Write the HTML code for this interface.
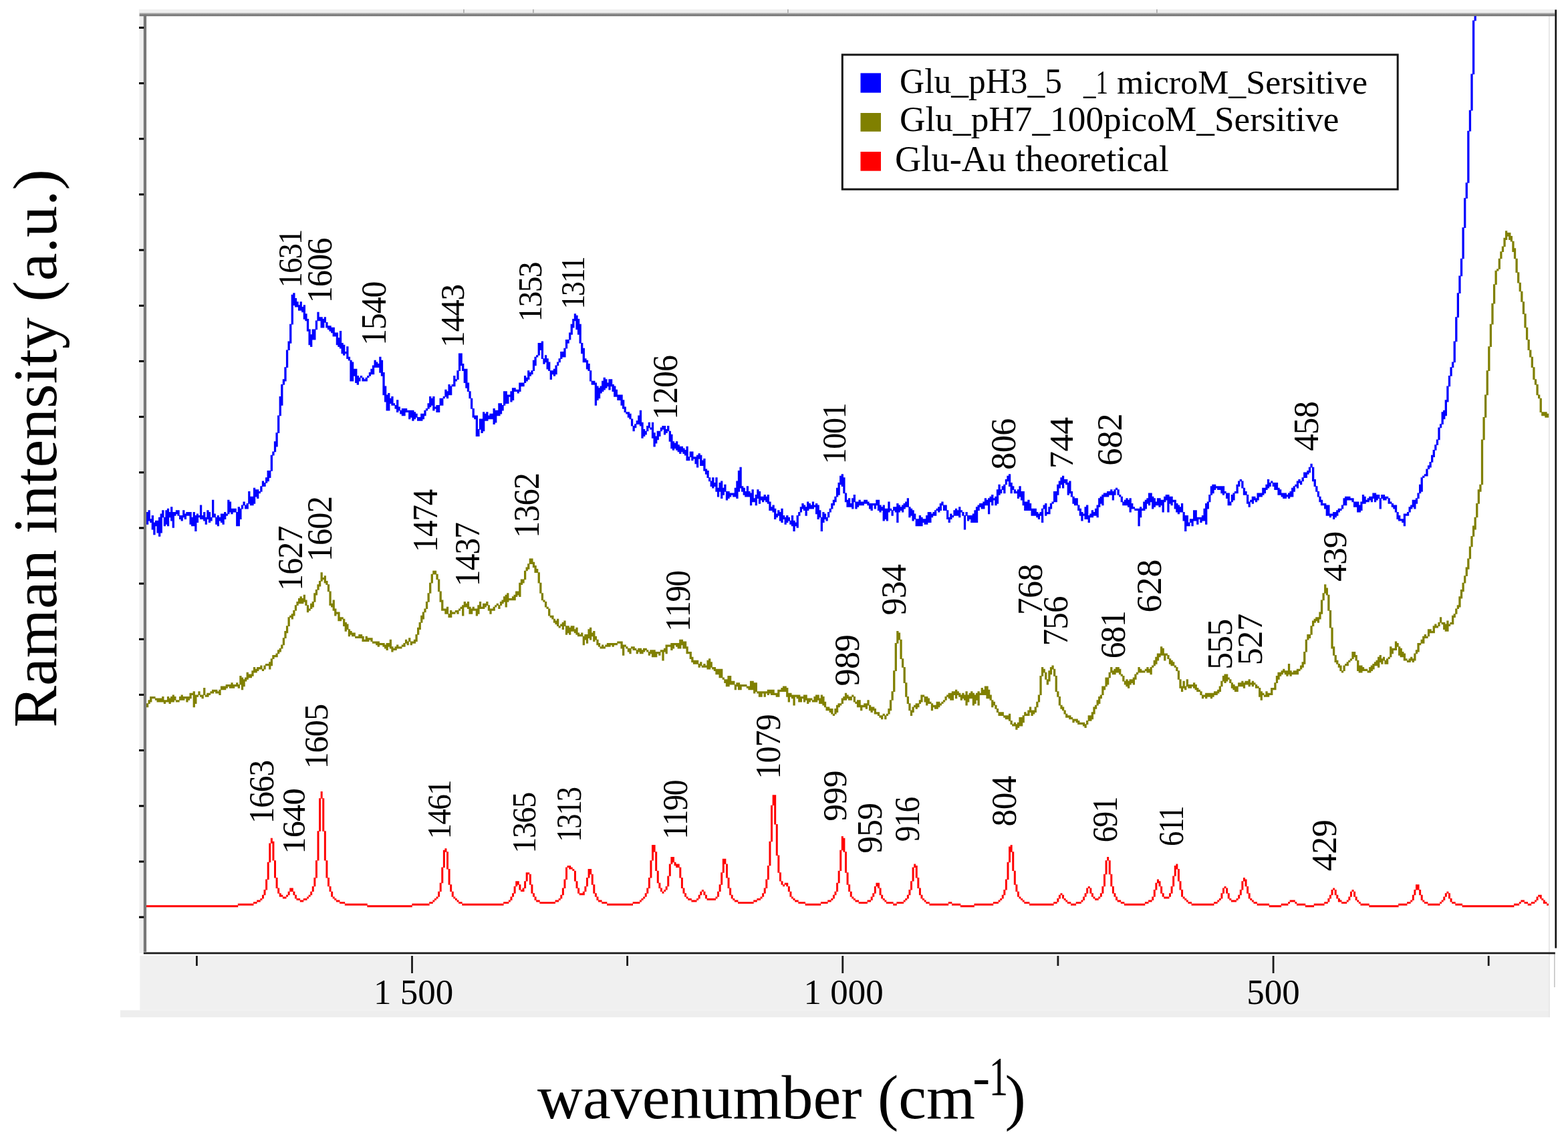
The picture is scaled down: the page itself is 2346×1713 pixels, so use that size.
<!DOCTYPE html>
<html><head><meta charset="utf-8"><title>Raman spectra</title>
<style>html,body{margin:0;padding:0;background:#fff;}body{width:2346px;height:1713px;overflow:hidden;}svg{display:block;}</style>
</head><body>
<svg xmlns="http://www.w3.org/2000/svg" width="2346" height="1713" viewBox="0 0 2346 1713">
<rect x="0" y="0" width="2346" height="1713" fill="#fff"/>
<rect x="208" y="14" width="2119" height="6" fill="#efefef"/>
<rect x="208.5" y="14" width="6.5" height="1412" fill="#f0f0f0"/>
<rect x="209.3" y="1429.7" width="2108.7" height="81.7" fill="#f0f0f0"/>
<rect x="180" y="1511.4" width="2138" height="10.6" fill="#eeeeee"/>
<rect x="2316.8" y="24" width="2.2" height="1498" fill="#e9e9e9"/>
<rect x="2325" y="1427" width="1.6" height="50" fill="#c4c4c4"/>
<rect x="693" y="14" width="1.8" height="6" fill="#b0b0b0"/>
<rect x="797" y="14" width="1.8" height="6" fill="#b0b0b0"/>
<rect x="1178" y="14" width="1.8" height="6" fill="#b0b0b0"/>
<rect x="1730" y="14" width="1.8" height="6" fill="#b0b0b0"/>
<path d="M216.52 1354.3h2.98v2.98h-2.98zM219.1 1354.3h2.98v2.98h-2.98zM221.68 1354.3h2.98v2.98h-2.98zM224.26 1354.3h2.98v2.98h-2.98zM226.84 1354.3h2.98v2.98h-2.98zM229.42 1354.3h2.98v2.98h-2.98zM232 1354.3h2.98v2.98h-2.98zM234.58 1354.3h2.98v2.98h-2.98zM237.16 1354.3h2.98v2.98h-2.98zM239.74 1354.3h2.98v2.98h-2.98zM242.32 1354.3h2.98v2.98h-2.98zM244.9 1354.3h2.98v2.98h-2.98zM247.48 1354.3h2.98v2.98h-2.98zM250.06 1354.3h2.98v2.98h-2.98zM252.64 1354.3h2.98v2.98h-2.98zM255.22 1354.3h2.98v2.98h-2.98zM257.8 1354.3h2.98v2.98h-2.98zM260.38 1354.3h2.98v2.98h-2.98zM262.96 1354.3h2.98v2.98h-2.98zM265.54 1354.3h2.98v2.98h-2.98zM268.12 1354.3h2.98v2.98h-2.98zM270.7 1354.3h2.98v2.98h-2.98zM273.28 1354.3h2.98v2.98h-2.98zM275.86 1354.3h2.98v2.98h-2.98zM278.44 1354.3h2.98v2.98h-2.98zM281.02 1354.3h2.98v2.98h-2.98zM283.6 1354.3h2.98v2.98h-2.98zM286.18 1354.3h2.98v2.98h-2.98zM288.76 1354.3h2.98v2.98h-2.98zM291.34 1354.3h2.98v2.98h-2.98zM293.92 1354.3h2.98v2.98h-2.98zM296.5 1354.3h2.98v2.98h-2.98zM299.08 1354.3h2.98v2.98h-2.98zM301.66 1354.3h2.98v2.98h-2.98zM304.24 1354.3h2.98v2.98h-2.98zM306.82 1354.3h2.98v2.98h-2.98zM309.4 1354.3h2.98v2.98h-2.98zM311.98 1354.3h2.98v2.98h-2.98zM314.56 1354.3h2.98v2.98h-2.98zM317.14 1354.3h2.98v2.98h-2.98zM319.72 1354.3h2.98v2.98h-2.98zM322.3 1354.3h2.98v2.98h-2.98zM324.88 1354.3h2.98v2.98h-2.98zM327.46 1354.3h2.98v2.98h-2.98zM330.04 1354.3h2.98v2.98h-2.98zM332.62 1354.3h2.98v2.98h-2.98zM335.2 1354.3h2.98v2.98h-2.98zM337.78 1354.3h2.98v2.98h-2.98zM340.36 1354.3h2.98v2.98h-2.98zM342.94 1354.3h2.98v2.98h-2.98zM345.52 1354.3h2.98v2.98h-2.98zM348.1 1354.3h2.98v2.98h-2.98zM350.68 1354.3h2.98v2.98h-2.98zM353.26 1354.3h2.98v2.98h-2.98zM355.84 1351.72h2.98v2.98h-2.98zM358.42 1351.72h2.98v2.98h-2.98zM361 1351.72h2.98v2.98h-2.98zM363.58 1351.72h2.98v2.98h-2.98zM366.16 1351.72h2.98v2.98h-2.98zM368.74 1351.72h2.98v2.98h-2.98zM371.32 1351.72h2.98v2.98h-2.98zM373.9 1351.72h2.98v2.98h-2.98zM376.48 1351.72h2.98v2.98h-2.98zM379.06 1349.14h2.98v2.98h-2.98zM381.64 1349.14h2.98v2.98h-2.98zM384.22 1346.56h2.98v2.98h-2.98zM386.8 1346.56h2.98v2.98h-2.98zM389.38 1343.98h2.98v2.98h-2.98zM391.96 1338.82h2.98v5.56h-2.98zM394.54 1331.08h2.98v8.14h-2.98zM397.12 1315.6h2.98v15.88h-2.98zM399.7 1289.8h2.98v26.2h-2.98zM402.28 1261.42h2.98v28.78h-2.98zM404.86 1253.68h2.98v8.14h-2.98zM407.44 1258.84h2.98v28.78h-2.98zM410.02 1287.22h2.98v26.2h-2.98zM412.6 1313.02h2.98v15.88h-2.98zM415.18 1328.5h2.98v8.14h-2.98zM417.76 1336.24h2.98v5.56h-2.98zM420.34 1338.82h2.98v2.98h-2.98zM422.92 1341.4h2.98v2.98h-2.98zM425.5 1341.4h2.98v2.98h-2.98zM428.08 1338.82h2.98v2.98h-2.98zM430.66 1333.66h2.98v5.56h-2.98zM433.24 1328.5h2.98v5.56h-2.98zM435.82 1328.5h2.98v5.56h-2.98zM438.4 1333.66h2.98v5.56h-2.98zM440.98 1338.82h2.98v5.56h-2.98zM443.56 1343.98h2.98v2.98h-2.98zM446.14 1343.98h2.98v2.98h-2.98zM448.72 1346.56h2.98v2.98h-2.98zM451.3 1346.56h2.98v2.98h-2.98zM453.88 1343.98h2.98v2.98h-2.98zM456.46 1343.98h2.98v2.98h-2.98zM459.04 1341.4h2.98v2.98h-2.98zM461.62 1338.82h2.98v2.98h-2.98zM464.2 1333.66h2.98v5.56h-2.98zM466.78 1325.92h2.98v8.14h-2.98zM469.36 1313.02h2.98v13.3h-2.98zM471.94 1287.22h2.98v26.2h-2.98zM474.52 1243.36h2.98v44.26h-2.98zM477.1 1194.34h2.98v49.42h-2.98zM479.68 1184.02h2.98v10.72h-2.98zM482.26 1194.34h2.98v49.42h-2.98zM484.84 1243.36h2.98v44.26h-2.98zM487.42 1287.22h2.98v26.2h-2.98zM490 1313.02h2.98v13.3h-2.98zM492.58 1325.92h2.98v8.14h-2.98zM495.16 1333.66h2.98v8.14h-2.98zM497.74 1341.4h2.98v2.98h-2.98zM500.32 1343.98h2.98v2.98h-2.98zM502.9 1346.56h2.98v2.98h-2.98zM505.48 1346.56h2.98v2.98h-2.98zM508.06 1349.14h2.98v2.98h-2.98zM510.64 1349.14h2.98v2.98h-2.98zM513.22 1349.14h2.98v2.98h-2.98zM515.8 1351.72h2.98v2.98h-2.98zM518.38 1351.72h2.98v2.98h-2.98zM520.96 1351.72h2.98v2.98h-2.98zM523.54 1351.72h2.98v2.98h-2.98zM526.12 1351.72h2.98v2.98h-2.98zM528.7 1351.72h2.98v2.98h-2.98zM531.28 1351.72h2.98v2.98h-2.98zM533.86 1351.72h2.98v2.98h-2.98zM536.44 1351.72h2.98v2.98h-2.98zM539.02 1351.72h2.98v2.98h-2.98zM541.6 1351.72h2.98v2.98h-2.98zM544.18 1351.72h2.98v2.98h-2.98zM546.76 1351.72h2.98v2.98h-2.98zM549.34 1354.3h2.98v2.98h-2.98zM551.92 1354.3h2.98v2.98h-2.98zM554.5 1354.3h2.98v2.98h-2.98zM557.08 1354.3h2.98v2.98h-2.98zM559.66 1354.3h2.98v2.98h-2.98zM562.24 1354.3h2.98v2.98h-2.98zM564.82 1354.3h2.98v2.98h-2.98zM567.4 1354.3h2.98v2.98h-2.98zM569.98 1354.3h2.98v2.98h-2.98zM572.56 1354.3h2.98v2.98h-2.98zM575.14 1354.3h2.98v2.98h-2.98zM577.72 1354.3h2.98v2.98h-2.98zM580.3 1354.3h2.98v2.98h-2.98zM582.88 1354.3h2.98v2.98h-2.98zM585.46 1354.3h2.98v2.98h-2.98zM588.04 1354.3h2.98v2.98h-2.98zM590.62 1354.3h2.98v2.98h-2.98zM593.2 1354.3h2.98v2.98h-2.98zM595.78 1354.3h2.98v2.98h-2.98zM598.36 1354.3h2.98v2.98h-2.98zM600.94 1354.3h2.98v2.98h-2.98zM603.52 1354.3h2.98v2.98h-2.98zM606.1 1354.3h2.98v2.98h-2.98zM608.68 1354.3h2.98v2.98h-2.98zM611.26 1354.3h2.98v2.98h-2.98zM613.84 1354.3h2.98v2.98h-2.98zM616.42 1351.72h2.98v2.98h-2.98zM619 1351.72h2.98v2.98h-2.98zM621.58 1351.72h2.98v2.98h-2.98zM624.16 1351.72h2.98v2.98h-2.98zM626.74 1351.72h2.98v2.98h-2.98zM629.32 1351.72h2.98v2.98h-2.98zM631.9 1351.72h2.98v2.98h-2.98zM634.48 1351.72h2.98v2.98h-2.98zM637.06 1351.72h2.98v2.98h-2.98zM639.64 1351.72h2.98v2.98h-2.98zM642.22 1349.14h2.98v2.98h-2.98zM644.8 1349.14h2.98v2.98h-2.98zM647.38 1346.56h2.98v2.98h-2.98zM649.96 1343.98h2.98v2.98h-2.98zM652.54 1341.4h2.98v2.98h-2.98zM655.12 1333.66h2.98v8.14h-2.98zM657.7 1320.76h2.98v13.3h-2.98zM660.28 1297.54h2.98v23.62h-2.98zM662.86 1271.74h2.98v26.2h-2.98zM665.44 1269.16h2.98v5.56h-2.98zM668.02 1274.32h2.98v26.2h-2.98zM670.6 1300.12h2.98v23.62h-2.98zM673.18 1323.34h2.98v10.72h-2.98zM675.76 1333.66h2.98v8.14h-2.98zM678.34 1341.4h2.98v2.98h-2.98zM680.92 1343.98h2.98v2.98h-2.98zM683.5 1346.56h2.98v2.98h-2.98zM686.08 1349.14h2.98v2.98h-2.98zM688.66 1349.14h2.98v2.98h-2.98zM691.24 1351.72h2.98v2.98h-2.98zM693.82 1351.72h2.98v2.98h-2.98zM696.4 1351.72h2.98v2.98h-2.98zM698.98 1351.72h2.98v2.98h-2.98zM701.56 1351.72h2.98v2.98h-2.98zM704.14 1351.72h2.98v2.98h-2.98zM706.72 1351.72h2.98v2.98h-2.98zM709.3 1351.72h2.98v2.98h-2.98zM711.88 1351.72h2.98v2.98h-2.98zM714.46 1351.72h2.98v2.98h-2.98zM717.04 1351.72h2.98v2.98h-2.98zM719.62 1351.72h2.98v2.98h-2.98zM722.2 1351.72h2.98v2.98h-2.98zM724.78 1351.72h2.98v2.98h-2.98zM727.36 1351.72h2.98v2.98h-2.98zM729.94 1351.72h2.98v2.98h-2.98zM732.52 1351.72h2.98v2.98h-2.98zM735.1 1351.72h2.98v2.98h-2.98zM737.68 1351.72h2.98v2.98h-2.98zM740.26 1351.72h2.98v2.98h-2.98zM742.84 1351.72h2.98v2.98h-2.98zM745.42 1351.72h2.98v2.98h-2.98zM748 1351.72h2.98v2.98h-2.98zM750.58 1351.72h2.98v2.98h-2.98zM753.16 1349.14h2.98v2.98h-2.98zM755.74 1349.14h2.98v2.98h-2.98zM758.32 1349.14h2.98v2.98h-2.98zM760.9 1346.56h2.98v2.98h-2.98zM763.48 1341.4h2.98v5.56h-2.98zM766.06 1336.24h2.98v5.56h-2.98zM768.64 1325.92h2.98v10.72h-2.98zM771.22 1318.18h2.98v8.14h-2.98zM773.8 1318.18h2.98v5.56h-2.98zM776.38 1323.34h2.98v8.14h-2.98zM778.96 1331.08h2.98v2.98h-2.98zM781.54 1328.5h2.98v5.56h-2.98zM784.12 1318.18h2.98v10.72h-2.98zM786.7 1305.28h2.98v13.3h-2.98zM789.28 1305.28h2.98v2.98h-2.98zM791.86 1307.86h2.98v15.88h-2.98zM794.44 1323.34h2.98v13.3h-2.98zM797.02 1336.24h2.98v5.56h-2.98zM799.6 1341.4h2.98v5.56h-2.98zM802.18 1346.56h2.98v2.98h-2.98zM804.76 1346.56h2.98v2.98h-2.98zM807.34 1349.14h2.98v2.98h-2.98zM809.92 1349.14h2.98v2.98h-2.98zM812.5 1349.14h2.98v2.98h-2.98zM815.08 1349.14h2.98v2.98h-2.98zM817.66 1349.14h2.98v2.98h-2.98zM820.24 1349.14h2.98v2.98h-2.98zM822.82 1349.14h2.98v2.98h-2.98zM825.4 1349.14h2.98v2.98h-2.98zM827.98 1349.14h2.98v2.98h-2.98zM830.56 1346.56h2.98v2.98h-2.98zM833.14 1346.56h2.98v2.98h-2.98zM835.72 1343.98h2.98v2.98h-2.98zM838.3 1338.82h2.98v5.56h-2.98zM840.88 1328.5h2.98v10.72h-2.98zM843.46 1315.6h2.98v13.3h-2.98zM846.04 1297.54h2.98v18.46h-2.98zM848.62 1294.96h2.98v2.98h-2.98zM851.2 1294.96h2.98v5.56h-2.98zM853.78 1297.54h2.98v2.98h-2.98zM856.36 1300.12h2.98v2.98h-2.98zM858.94 1302.7h2.98v15.88h-2.98zM861.52 1318.18h2.98v10.72h-2.98zM864.1 1328.5h2.98v8.14h-2.98zM866.68 1336.24h2.98v2.98h-2.98zM869.26 1336.24h2.98v2.98h-2.98zM871.84 1333.66h2.98v5.56h-2.98zM874.42 1325.92h2.98v8.14h-2.98zM877 1313.02h2.98v13.3h-2.98zM879.58 1300.12h2.98v13.3h-2.98zM882.16 1300.12h2.98v8.14h-2.98zM884.74 1307.86h2.98v15.88h-2.98zM887.32 1323.34h2.98v13.3h-2.98zM889.9 1336.24h2.98v5.56h-2.98zM892.48 1341.4h2.98v5.56h-2.98zM895.06 1346.56h2.98v2.98h-2.98zM897.64 1346.56h2.98v2.98h-2.98zM900.22 1349.14h2.98v2.98h-2.98zM902.8 1349.14h2.98v2.98h-2.98zM905.38 1349.14h2.98v2.98h-2.98zM907.96 1351.72h2.98v2.98h-2.98zM910.54 1351.72h2.98v2.98h-2.98zM913.12 1351.72h2.98v2.98h-2.98zM915.7 1351.72h2.98v2.98h-2.98zM918.28 1351.72h2.98v2.98h-2.98zM920.86 1351.72h2.98v2.98h-2.98zM923.44 1351.72h2.98v2.98h-2.98zM926.02 1351.72h2.98v2.98h-2.98zM928.6 1351.72h2.98v2.98h-2.98zM931.18 1351.72h2.98v2.98h-2.98zM933.76 1351.72h2.98v2.98h-2.98zM936.34 1351.72h2.98v2.98h-2.98zM938.92 1351.72h2.98v2.98h-2.98zM941.5 1351.72h2.98v2.98h-2.98zM944.08 1351.72h2.98v2.98h-2.98zM946.66 1349.14h2.98v2.98h-2.98zM949.24 1349.14h2.98v2.98h-2.98zM951.82 1349.14h2.98v2.98h-2.98zM954.4 1349.14h2.98v2.98h-2.98zM956.98 1346.56h2.98v2.98h-2.98zM959.56 1343.98h2.98v2.98h-2.98zM962.14 1341.4h2.98v2.98h-2.98zM964.72 1336.24h2.98v5.56h-2.98zM967.3 1328.5h2.98v8.14h-2.98zM969.88 1313.02h2.98v15.88h-2.98zM972.46 1287.22h2.98v26.2h-2.98zM975.04 1264h2.98v23.62h-2.98zM977.62 1264h2.98v10.72h-2.98zM980.2 1274.32h2.98v28.78h-2.98zM982.78 1302.7h2.98v18.46h-2.98zM985.36 1320.76h2.98v8.14h-2.98zM987.94 1328.5h2.98v5.56h-2.98zM990.52 1333.66h2.98v2.98h-2.98zM993.1 1331.08h2.98v2.98h-2.98zM995.68 1325.92h2.98v5.56h-2.98zM998.26 1310.44h2.98v15.88h-2.98zM1000.84 1292.38h2.98v18.46h-2.98zM1003.42 1282.06h2.98v10.72h-2.98zM1006 1282.06h2.98v8.14h-2.98zM1008.58 1289.8h2.98v5.56h-2.98zM1011.16 1292.38h2.98v5.56h-2.98zM1013.74 1292.38h2.98v5.56h-2.98zM1016.32 1297.54h2.98v15.88h-2.98zM1018.9 1313.02h2.98v15.88h-2.98zM1021.48 1328.5h2.98v8.14h-2.98zM1024.06 1336.24h2.98v5.56h-2.98zM1026.64 1341.4h2.98v2.98h-2.98zM1029.22 1343.98h2.98v2.98h-2.98zM1031.8 1343.98h2.98v2.98h-2.98zM1034.38 1346.56h2.98v2.98h-2.98zM1036.96 1346.56h2.98v2.98h-2.98zM1039.54 1346.56h2.98v2.98h-2.98zM1042.12 1343.98h2.98v2.98h-2.98zM1044.7 1338.82h2.98v5.56h-2.98zM1047.28 1333.66h2.98v5.56h-2.98zM1049.86 1331.08h2.98v2.98h-2.98zM1052.44 1333.66h2.98v5.56h-2.98zM1055.02 1338.82h2.98v5.56h-2.98zM1057.6 1343.98h2.98v2.98h-2.98zM1060.18 1343.98h2.98v2.98h-2.98zM1062.76 1343.98h2.98v2.98h-2.98zM1065.34 1343.98h2.98v2.98h-2.98zM1067.92 1343.98h2.98v2.98h-2.98zM1070.5 1341.4h2.98v2.98h-2.98zM1073.08 1333.66h2.98v8.14h-2.98zM1075.66 1323.34h2.98v10.72h-2.98zM1078.24 1305.28h2.98v18.46h-2.98zM1080.82 1284.64h2.98v21.04h-2.98zM1083.4 1284.64h2.98v8.14h-2.98zM1085.98 1292.38h2.98v21.04h-2.98zM1088.56 1313.02h2.98v15.88h-2.98zM1091.14 1328.5h2.98v10.72h-2.98zM1093.72 1338.82h2.98v5.56h-2.98zM1096.3 1343.98h2.98v2.98h-2.98zM1098.88 1346.56h2.98v2.98h-2.98zM1101.46 1346.56h2.98v2.98h-2.98zM1104.04 1349.14h2.98v2.98h-2.98zM1106.62 1349.14h2.98v2.98h-2.98zM1109.2 1349.14h2.98v2.98h-2.98zM1111.78 1349.14h2.98v2.98h-2.98zM1114.36 1349.14h2.98v2.98h-2.98zM1116.94 1349.14h2.98v2.98h-2.98zM1119.52 1349.14h2.98v2.98h-2.98zM1122.1 1349.14h2.98v2.98h-2.98zM1124.68 1349.14h2.98v2.98h-2.98zM1127.26 1346.56h2.98v2.98h-2.98zM1129.84 1346.56h2.98v2.98h-2.98zM1132.42 1343.98h2.98v2.98h-2.98zM1135 1343.98h2.98v2.98h-2.98zM1137.58 1341.4h2.98v2.98h-2.98zM1140.16 1336.24h2.98v5.56h-2.98zM1142.74 1328.5h2.98v8.14h-2.98zM1145.32 1315.6h2.98v13.3h-2.98zM1147.9 1294.96h2.98v21.04h-2.98zM1150.48 1258.84h2.98v36.52h-2.98zM1153.06 1204.66h2.98v54.58h-2.98zM1155.64 1189.18h2.98v15.88h-2.98zM1158.22 1189.18h2.98v44.26h-2.98zM1160.8 1233.04h2.98v46.84h-2.98zM1163.38 1279.48h2.98v26.2h-2.98zM1165.96 1305.28h2.98v13.3h-2.98zM1168.54 1318.18h2.98v5.56h-2.98zM1171.12 1323.34h2.98v2.98h-2.98zM1173.7 1320.76h2.98v2.98h-2.98zM1176.28 1320.76h2.98v5.56h-2.98zM1178.86 1325.92h2.98v8.14h-2.98zM1181.44 1333.66h2.98v8.14h-2.98zM1184.02 1341.4h2.98v2.98h-2.98zM1186.6 1343.98h2.98v2.98h-2.98zM1189.18 1346.56h2.98v2.98h-2.98zM1191.76 1346.56h2.98v2.98h-2.98zM1194.34 1349.14h2.98v2.98h-2.98zM1196.92 1349.14h2.98v2.98h-2.98zM1199.5 1349.14h2.98v2.98h-2.98zM1202.08 1349.14h2.98v2.98h-2.98zM1204.66 1351.72h2.98v2.98h-2.98zM1207.24 1351.72h2.98v2.98h-2.98zM1209.82 1351.72h2.98v2.98h-2.98zM1212.4 1351.72h2.98v2.98h-2.98zM1214.98 1351.72h2.98v2.98h-2.98zM1217.56 1351.72h2.98v2.98h-2.98zM1220.14 1351.72h2.98v2.98h-2.98zM1222.72 1351.72h2.98v2.98h-2.98zM1225.3 1351.72h2.98v2.98h-2.98zM1227.88 1349.14h2.98v2.98h-2.98zM1230.46 1349.14h2.98v2.98h-2.98zM1233.04 1349.14h2.98v2.98h-2.98zM1235.62 1349.14h2.98v2.98h-2.98zM1238.2 1346.56h2.98v2.98h-2.98zM1240.78 1346.56h2.98v2.98h-2.98zM1243.36 1343.98h2.98v2.98h-2.98zM1245.94 1338.82h2.98v5.56h-2.98zM1248.52 1333.66h2.98v5.56h-2.98zM1251.1 1320.76h2.98v13.3h-2.98zM1253.68 1302.7h2.98v18.46h-2.98zM1256.26 1271.74h2.98v31.36h-2.98zM1258.84 1251.1h2.98v21.04h-2.98zM1261.42 1253.68h2.98v21.04h-2.98zM1264 1274.32h2.98v31.36h-2.98zM1266.58 1305.28h2.98v18.46h-2.98zM1269.16 1323.34h2.98v10.72h-2.98zM1271.74 1333.66h2.98v8.14h-2.98zM1274.32 1341.4h2.98v2.98h-2.98zM1276.9 1343.98h2.98v2.98h-2.98zM1279.48 1346.56h2.98v2.98h-2.98zM1282.06 1346.56h2.98v2.98h-2.98zM1284.64 1349.14h2.98v2.98h-2.98zM1287.22 1349.14h2.98v2.98h-2.98zM1289.8 1349.14h2.98v2.98h-2.98zM1292.38 1349.14h2.98v2.98h-2.98zM1294.96 1349.14h2.98v2.98h-2.98zM1297.54 1346.56h2.98v2.98h-2.98zM1300.12 1346.56h2.98v2.98h-2.98zM1302.7 1341.4h2.98v5.56h-2.98zM1305.28 1336.24h2.98v5.56h-2.98zM1307.86 1325.92h2.98v10.72h-2.98zM1310.44 1320.76h2.98v5.56h-2.98zM1313.02 1320.76h2.98v8.14h-2.98zM1315.6 1328.5h2.98v10.72h-2.98zM1318.18 1338.82h2.98v5.56h-2.98zM1320.76 1343.98h2.98v2.98h-2.98zM1323.34 1346.56h2.98v2.98h-2.98zM1325.92 1349.14h2.98v2.98h-2.98zM1328.5 1349.14h2.98v2.98h-2.98zM1331.08 1349.14h2.98v2.98h-2.98zM1333.66 1349.14h2.98v2.98h-2.98zM1336.24 1351.72h2.98v2.98h-2.98zM1338.82 1351.72h2.98v2.98h-2.98zM1341.4 1349.14h2.98v2.98h-2.98zM1343.98 1349.14h2.98v2.98h-2.98zM1346.56 1349.14h2.98v2.98h-2.98zM1349.14 1349.14h2.98v2.98h-2.98zM1351.72 1346.56h2.98v2.98h-2.98zM1354.3 1343.98h2.98v2.98h-2.98zM1356.88 1338.82h2.98v5.56h-2.98zM1359.46 1331.08h2.98v8.14h-2.98zM1362.04 1318.18h2.98v13.3h-2.98zM1364.62 1297.54h2.98v21.04h-2.98zM1367.2 1292.38h2.98v5.56h-2.98zM1369.78 1294.96h2.98v18.46h-2.98zM1372.36 1313.02h2.98v15.88h-2.98zM1374.94 1328.5h2.98v10.72h-2.98zM1377.52 1338.82h2.98v5.56h-2.98zM1380.1 1343.98h2.98v2.98h-2.98zM1382.68 1346.56h2.98v2.98h-2.98zM1385.26 1349.14h2.98v2.98h-2.98zM1387.84 1349.14h2.98v2.98h-2.98zM1390.42 1351.72h2.98v2.98h-2.98zM1393 1351.72h2.98v2.98h-2.98zM1395.58 1351.72h2.98v2.98h-2.98zM1398.16 1351.72h2.98v2.98h-2.98zM1400.74 1351.72h2.98v2.98h-2.98zM1403.32 1351.72h2.98v2.98h-2.98zM1405.9 1351.72h2.98v2.98h-2.98zM1408.48 1351.72h2.98v2.98h-2.98zM1411.06 1351.72h2.98v2.98h-2.98zM1413.64 1351.72h2.98v2.98h-2.98zM1416.22 1351.72h2.98v2.98h-2.98zM1418.8 1349.14h2.98v2.98h-2.98zM1421.38 1349.14h2.98v2.98h-2.98zM1423.96 1351.72h2.98v2.98h-2.98zM1426.54 1351.72h2.98v2.98h-2.98zM1429.12 1351.72h2.98v2.98h-2.98zM1431.7 1351.72h2.98v2.98h-2.98zM1434.28 1351.72h2.98v2.98h-2.98zM1436.86 1354.3h2.98v2.98h-2.98zM1439.44 1354.3h2.98v2.98h-2.98zM1442.02 1354.3h2.98v2.98h-2.98zM1444.6 1354.3h2.98v2.98h-2.98zM1447.18 1354.3h2.98v2.98h-2.98zM1449.76 1354.3h2.98v2.98h-2.98zM1452.34 1354.3h2.98v2.98h-2.98zM1454.92 1354.3h2.98v2.98h-2.98zM1457.5 1351.72h2.98v2.98h-2.98zM1460.08 1351.72h2.98v2.98h-2.98zM1462.66 1351.72h2.98v2.98h-2.98zM1465.24 1351.72h2.98v2.98h-2.98zM1467.82 1351.72h2.98v2.98h-2.98zM1470.4 1351.72h2.98v2.98h-2.98zM1472.98 1351.72h2.98v2.98h-2.98zM1475.56 1351.72h2.98v2.98h-2.98zM1478.14 1351.72h2.98v2.98h-2.98zM1480.72 1351.72h2.98v2.98h-2.98zM1483.3 1351.72h2.98v2.98h-2.98zM1485.88 1349.14h2.98v2.98h-2.98zM1488.46 1349.14h2.98v2.98h-2.98zM1491.04 1349.14h2.98v2.98h-2.98zM1493.62 1346.56h2.98v2.98h-2.98zM1496.2 1343.98h2.98v2.98h-2.98zM1498.78 1338.82h2.98v5.56h-2.98zM1501.36 1331.08h2.98v8.14h-2.98zM1503.94 1315.6h2.98v15.88h-2.98zM1506.52 1289.8h2.98v26.2h-2.98zM1509.1 1266.58h2.98v23.62h-2.98zM1511.68 1264h2.98v10.72h-2.98zM1514.26 1274.32h2.98v28.78h-2.98zM1516.84 1302.7h2.98v21.04h-2.98zM1519.42 1323.34h2.98v10.72h-2.98zM1522 1333.66h2.98v8.14h-2.98zM1524.58 1341.4h2.98v2.98h-2.98zM1527.16 1343.98h2.98v2.98h-2.98zM1529.74 1346.56h2.98v2.98h-2.98zM1532.32 1349.14h2.98v2.98h-2.98zM1534.9 1349.14h2.98v2.98h-2.98zM1537.48 1349.14h2.98v2.98h-2.98zM1540.06 1351.72h2.98v2.98h-2.98zM1542.64 1351.72h2.98v2.98h-2.98zM1545.22 1351.72h2.98v2.98h-2.98zM1547.8 1351.72h2.98v2.98h-2.98zM1550.38 1351.72h2.98v2.98h-2.98zM1552.96 1351.72h2.98v2.98h-2.98zM1555.54 1351.72h2.98v2.98h-2.98zM1558.12 1351.72h2.98v2.98h-2.98zM1560.7 1351.72h2.98v2.98h-2.98zM1563.28 1351.72h2.98v2.98h-2.98zM1565.86 1351.72h2.98v2.98h-2.98zM1568.44 1351.72h2.98v2.98h-2.98zM1571.02 1351.72h2.98v2.98h-2.98zM1573.6 1351.72h2.98v2.98h-2.98zM1576.18 1349.14h2.98v2.98h-2.98zM1578.76 1349.14h2.98v2.98h-2.98zM1581.34 1343.98h2.98v5.56h-2.98zM1583.92 1338.82h2.98v5.56h-2.98zM1586.5 1336.24h2.98v2.98h-2.98zM1589.08 1338.82h2.98v5.56h-2.98zM1591.66 1343.98h2.98v2.98h-2.98zM1594.24 1346.56h2.98v2.98h-2.98zM1596.82 1349.14h2.98v2.98h-2.98zM1599.4 1349.14h2.98v2.98h-2.98zM1601.98 1351.72h2.98v2.98h-2.98zM1604.56 1351.72h2.98v2.98h-2.98zM1607.14 1351.72h2.98v2.98h-2.98zM1609.72 1349.14h2.98v2.98h-2.98zM1612.3 1349.14h2.98v2.98h-2.98zM1614.88 1349.14h2.98v2.98h-2.98zM1617.46 1346.56h2.98v2.98h-2.98zM1620.04 1341.4h2.98v5.56h-2.98zM1622.62 1336.24h2.98v5.56h-2.98zM1625.2 1328.5h2.98v8.14h-2.98zM1627.78 1325.92h2.98v2.98h-2.98zM1630.36 1328.5h2.98v8.14h-2.98zM1632.94 1336.24h2.98v5.56h-2.98zM1635.52 1341.4h2.98v2.98h-2.98zM1638.1 1343.98h2.98v2.98h-2.98zM1640.68 1343.98h2.98v2.98h-2.98zM1643.26 1341.4h2.98v2.98h-2.98zM1645.84 1336.24h2.98v5.56h-2.98zM1648.42 1325.92h2.98v10.72h-2.98zM1651 1307.86h2.98v18.46h-2.98zM1653.58 1287.22h2.98v21.04h-2.98zM1656.16 1282.06h2.98v5.56h-2.98zM1658.74 1287.22h2.98v21.04h-2.98zM1661.32 1307.86h2.98v18.46h-2.98zM1663.9 1325.92h2.98v10.72h-2.98zM1666.48 1336.24h2.98v5.56h-2.98zM1669.06 1341.4h2.98v5.56h-2.98zM1671.64 1346.56h2.98v2.98h-2.98zM1674.22 1346.56h2.98v2.98h-2.98zM1676.8 1349.14h2.98v2.98h-2.98zM1679.38 1349.14h2.98v2.98h-2.98zM1681.96 1351.72h2.98v2.98h-2.98zM1684.54 1351.72h2.98v2.98h-2.98zM1687.12 1351.72h2.98v2.98h-2.98zM1689.7 1351.72h2.98v2.98h-2.98zM1692.28 1351.72h2.98v2.98h-2.98zM1694.86 1351.72h2.98v2.98h-2.98zM1697.44 1351.72h2.98v2.98h-2.98zM1700.02 1351.72h2.98v2.98h-2.98zM1702.6 1351.72h2.98v2.98h-2.98zM1705.18 1351.72h2.98v2.98h-2.98zM1707.76 1351.72h2.98v2.98h-2.98zM1710.34 1351.72h2.98v2.98h-2.98zM1712.92 1349.14h2.98v2.98h-2.98zM1715.5 1349.14h2.98v2.98h-2.98zM1718.08 1346.56h2.98v2.98h-2.98zM1720.66 1346.56h2.98v2.98h-2.98zM1723.24 1341.4h2.98v5.56h-2.98zM1725.82 1331.08h2.98v10.72h-2.98zM1728.4 1320.76h2.98v10.72h-2.98zM1730.98 1315.6h2.98v5.56h-2.98zM1733.56 1318.18h2.98v8.14h-2.98zM1736.14 1325.92h2.98v10.72h-2.98zM1738.72 1336.24h2.98v5.56h-2.98zM1741.3 1341.4h2.98v2.98h-2.98zM1743.88 1341.4h2.98v2.98h-2.98zM1746.46 1341.4h2.98v2.98h-2.98zM1749.04 1336.24h2.98v5.56h-2.98zM1751.62 1325.92h2.98v10.72h-2.98zM1754.2 1310.44h2.98v15.88h-2.98zM1756.78 1294.96h2.98v15.88h-2.98zM1759.36 1292.38h2.98v8.14h-2.98zM1761.94 1300.12h2.98v18.46h-2.98zM1764.52 1318.18h2.98v13.3h-2.98zM1767.1 1331.08h2.98v10.72h-2.98zM1769.68 1341.4h2.98v2.98h-2.98zM1772.26 1343.98h2.98v2.98h-2.98zM1774.84 1346.56h2.98v2.98h-2.98zM1777.42 1349.14h2.98v2.98h-2.98zM1780 1349.14h2.98v2.98h-2.98zM1782.58 1351.72h2.98v2.98h-2.98zM1785.16 1351.72h2.98v2.98h-2.98zM1787.74 1351.72h2.98v2.98h-2.98zM1790.32 1351.72h2.98v2.98h-2.98zM1792.9 1351.72h2.98v2.98h-2.98zM1795.48 1351.72h2.98v2.98h-2.98zM1798.06 1351.72h2.98v2.98h-2.98zM1800.64 1351.72h2.98v2.98h-2.98zM1803.22 1351.72h2.98v2.98h-2.98zM1805.8 1351.72h2.98v2.98h-2.98zM1808.38 1351.72h2.98v2.98h-2.98zM1810.96 1351.72h2.98v2.98h-2.98zM1813.54 1351.72h2.98v2.98h-2.98zM1816.12 1349.14h2.98v2.98h-2.98zM1818.7 1349.14h2.98v2.98h-2.98zM1821.28 1346.56h2.98v2.98h-2.98zM1823.86 1343.98h2.98v2.98h-2.98zM1826.44 1336.24h2.98v8.14h-2.98zM1829.02 1328.5h2.98v8.14h-2.98zM1831.6 1325.92h2.98v2.98h-2.98zM1834.18 1328.5h2.98v8.14h-2.98zM1836.76 1336.24h2.98v8.14h-2.98zM1839.34 1343.98h2.98v2.98h-2.98zM1841.92 1346.56h2.98v2.98h-2.98zM1844.5 1346.56h2.98v2.98h-2.98zM1847.08 1346.56h2.98v2.98h-2.98zM1849.66 1343.98h2.98v2.98h-2.98zM1852.24 1338.82h2.98v5.56h-2.98zM1854.82 1331.08h2.98v8.14h-2.98zM1857.4 1318.18h2.98v13.3h-2.98zM1859.98 1313.02h2.98v5.56h-2.98zM1862.56 1315.6h2.98v10.72h-2.98zM1865.14 1325.92h2.98v10.72h-2.98zM1867.72 1336.24h2.98v8.14h-2.98zM1870.3 1343.98h2.98v2.98h-2.98zM1872.88 1346.56h2.98v2.98h-2.98zM1875.46 1349.14h2.98v2.98h-2.98zM1878.04 1349.14h2.98v2.98h-2.98zM1880.62 1351.72h2.98v2.98h-2.98zM1883.2 1351.72h2.98v2.98h-2.98zM1885.78 1351.72h2.98v2.98h-2.98zM1888.36 1351.72h2.98v2.98h-2.98zM1890.94 1351.72h2.98v2.98h-2.98zM1893.52 1351.72h2.98v2.98h-2.98zM1896.1 1351.72h2.98v2.98h-2.98zM1898.68 1354.3h2.98v2.98h-2.98zM1901.26 1354.3h2.98v2.98h-2.98zM1903.84 1354.3h2.98v2.98h-2.98zM1906.42 1354.3h2.98v2.98h-2.98zM1909 1354.3h2.98v2.98h-2.98zM1911.58 1354.3h2.98v2.98h-2.98zM1914.16 1354.3h2.98v2.98h-2.98zM1916.74 1351.72h2.98v2.98h-2.98zM1919.32 1351.72h2.98v2.98h-2.98zM1921.9 1351.72h2.98v2.98h-2.98zM1924.48 1351.72h2.98v2.98h-2.98zM1927.06 1349.14h2.98v2.98h-2.98zM1929.64 1346.56h2.98v2.98h-2.98zM1932.22 1346.56h2.98v2.98h-2.98zM1934.8 1346.56h2.98v2.98h-2.98zM1937.38 1349.14h2.98v2.98h-2.98zM1939.96 1351.72h2.98v2.98h-2.98zM1942.54 1351.72h2.98v2.98h-2.98zM1945.12 1351.72h2.98v2.98h-2.98zM1947.7 1351.72h2.98v2.98h-2.98zM1950.28 1351.72h2.98v2.98h-2.98zM1952.86 1354.3h2.98v2.98h-2.98zM1955.44 1354.3h2.98v2.98h-2.98zM1958.02 1354.3h2.98v2.98h-2.98zM1960.6 1354.3h2.98v2.98h-2.98zM1963.18 1354.3h2.98v2.98h-2.98zM1965.76 1351.72h2.98v2.98h-2.98zM1968.34 1351.72h2.98v2.98h-2.98zM1970.92 1351.72h2.98v2.98h-2.98zM1973.5 1351.72h2.98v2.98h-2.98zM1976.08 1351.72h2.98v2.98h-2.98zM1978.66 1351.72h2.98v2.98h-2.98zM1981.24 1349.14h2.98v2.98h-2.98zM1983.82 1349.14h2.98v2.98h-2.98zM1986.4 1343.98h2.98v5.56h-2.98zM1988.98 1338.82h2.98v5.56h-2.98zM1991.56 1331.08h2.98v8.14h-2.98zM1994.14 1328.5h2.98v2.98h-2.98zM1996.72 1331.08h2.98v8.14h-2.98zM1999.3 1338.82h2.98v5.56h-2.98zM2001.88 1343.98h2.98v5.56h-2.98zM2004.46 1346.56h2.98v2.98h-2.98zM2007.04 1349.14h2.98v2.98h-2.98zM2009.62 1349.14h2.98v2.98h-2.98zM2012.2 1349.14h2.98v2.98h-2.98zM2014.78 1346.56h2.98v2.98h-2.98zM2017.36 1341.4h2.98v5.56h-2.98zM2019.94 1333.66h2.98v8.14h-2.98zM2022.52 1331.08h2.98v2.98h-2.98zM2025.1 1333.66h2.98v8.14h-2.98zM2027.68 1341.4h2.98v5.56h-2.98zM2030.26 1346.56h2.98v2.98h-2.98zM2032.84 1349.14h2.98v2.98h-2.98zM2035.42 1351.72h2.98v2.98h-2.98zM2038 1351.72h2.98v2.98h-2.98zM2040.58 1351.72h2.98v2.98h-2.98zM2043.16 1351.72h2.98v2.98h-2.98zM2045.74 1351.72h2.98v2.98h-2.98zM2048.32 1354.3h2.98v2.98h-2.98zM2050.9 1354.3h2.98v2.98h-2.98zM2053.48 1354.3h2.98v2.98h-2.98zM2056.06 1354.3h2.98v2.98h-2.98zM2058.64 1354.3h2.98v2.98h-2.98zM2061.22 1354.3h2.98v2.98h-2.98zM2063.8 1354.3h2.98v2.98h-2.98zM2066.38 1354.3h2.98v2.98h-2.98zM2068.96 1354.3h2.98v2.98h-2.98zM2071.54 1354.3h2.98v2.98h-2.98zM2074.12 1354.3h2.98v2.98h-2.98zM2076.7 1354.3h2.98v2.98h-2.98zM2079.28 1354.3h2.98v2.98h-2.98zM2081.86 1354.3h2.98v2.98h-2.98zM2084.44 1354.3h2.98v2.98h-2.98zM2087.02 1354.3h2.98v2.98h-2.98zM2089.6 1354.3h2.98v2.98h-2.98zM2092.18 1351.72h2.98v2.98h-2.98zM2094.76 1351.72h2.98v2.98h-2.98zM2097.34 1351.72h2.98v2.98h-2.98zM2099.92 1351.72h2.98v2.98h-2.98zM2102.5 1351.72h2.98v2.98h-2.98zM2105.08 1349.14h2.98v2.98h-2.98zM2107.66 1349.14h2.98v2.98h-2.98zM2110.24 1346.56h2.98v2.98h-2.98zM2112.82 1338.82h2.98v8.14h-2.98zM2115.4 1331.08h2.98v8.14h-2.98zM2117.98 1323.34h2.98v8.14h-2.98zM2120.56 1323.34h2.98v8.14h-2.98zM2123.14 1331.08h2.98v8.14h-2.98zM2125.72 1338.82h2.98v8.14h-2.98zM2128.3 1346.56h2.98v2.98h-2.98zM2130.88 1349.14h2.98v2.98h-2.98zM2133.46 1349.14h2.98v2.98h-2.98zM2136.04 1351.72h2.98v2.98h-2.98zM2138.62 1351.72h2.98v2.98h-2.98zM2141.2 1351.72h2.98v2.98h-2.98zM2143.78 1351.72h2.98v2.98h-2.98zM2146.36 1351.72h2.98v2.98h-2.98zM2148.94 1351.72h2.98v2.98h-2.98zM2151.52 1351.72h2.98v2.98h-2.98zM2154.1 1349.14h2.98v2.98h-2.98zM2156.68 1346.56h2.98v2.98h-2.98zM2159.26 1341.4h2.98v5.56h-2.98zM2161.84 1336.24h2.98v5.56h-2.98zM2164.42 1333.66h2.98v2.98h-2.98zM2167 1336.24h2.98v8.14h-2.98zM2169.58 1343.98h2.98v5.56h-2.98zM2172.16 1349.14h2.98v2.98h-2.98zM2174.74 1349.14h2.98v2.98h-2.98zM2177.32 1351.72h2.98v2.98h-2.98zM2179.9 1351.72h2.98v2.98h-2.98zM2182.48 1351.72h2.98v2.98h-2.98zM2185.06 1351.72h2.98v2.98h-2.98zM2187.64 1354.3h2.98v2.98h-2.98zM2190.22 1354.3h2.98v2.98h-2.98zM2192.8 1354.3h2.98v2.98h-2.98zM2195.38 1354.3h2.98v2.98h-2.98zM2197.96 1354.3h2.98v2.98h-2.98zM2200.54 1354.3h2.98v2.98h-2.98zM2203.12 1354.3h2.98v2.98h-2.98zM2205.7 1354.3h2.98v2.98h-2.98zM2208.28 1354.3h2.98v2.98h-2.98zM2210.86 1354.3h2.98v2.98h-2.98zM2213.44 1354.3h2.98v2.98h-2.98zM2216.02 1354.3h2.98v2.98h-2.98zM2218.6 1354.3h2.98v2.98h-2.98zM2221.18 1354.3h2.98v2.98h-2.98zM2223.76 1354.3h2.98v2.98h-2.98zM2226.34 1354.3h2.98v2.98h-2.98zM2228.92 1354.3h2.98v2.98h-2.98zM2231.5 1354.3h2.98v2.98h-2.98zM2234.08 1354.3h2.98v2.98h-2.98zM2236.66 1354.3h2.98v2.98h-2.98zM2239.24 1354.3h2.98v2.98h-2.98zM2241.82 1354.3h2.98v2.98h-2.98zM2244.4 1354.3h2.98v2.98h-2.98zM2246.98 1354.3h2.98v2.98h-2.98zM2249.56 1354.3h2.98v2.98h-2.98zM2252.14 1354.3h2.98v2.98h-2.98zM2254.72 1354.3h2.98v2.98h-2.98zM2257.3 1354.3h2.98v2.98h-2.98zM2259.88 1354.3h2.98v2.98h-2.98zM2262.46 1354.3h2.98v2.98h-2.98zM2265.04 1351.72h2.98v2.98h-2.98zM2267.62 1351.72h2.98v2.98h-2.98zM2270.2 1351.72h2.98v2.98h-2.98zM2272.78 1349.14h2.98v2.98h-2.98zM2275.36 1346.56h2.98v2.98h-2.98zM2277.94 1346.56h2.98v2.98h-2.98zM2280.52 1349.14h2.98v2.98h-2.98zM2283.1 1349.14h2.98v2.98h-2.98zM2285.68 1351.72h2.98v2.98h-2.98zM2288.26 1351.72h2.98v2.98h-2.98zM2290.84 1349.14h2.98v2.98h-2.98zM2293.42 1349.14h2.98v2.98h-2.98zM2296 1346.56h2.98v2.98h-2.98zM2298.58 1341.4h2.98v5.56h-2.98zM2301.16 1338.82h2.98v2.98h-2.98zM2303.74 1338.82h2.98v5.56h-2.98zM2306.32 1343.98h2.98v2.98h-2.98zM2308.9 1346.56h2.98v5.56h-2.98zM2311.48 1349.14h2.98v2.98h-2.98zM2314.06 1351.72h2.98v2.98h-2.98z" fill="#ff0000"/>
<g>
<path d="M216.37 1052.29h3.28v3.28h-3.28zM218.95 1052.29h3.28v5.86h-3.28zM221.53 1047.13h3.28v5.86h-3.28zM224.11 1041.97h3.28v8.44h-3.28zM226.69 1041.97h3.28v3.28h-3.28zM229.27 1041.97h3.28v3.28h-3.28zM231.85 1044.55h3.28v3.28h-3.28zM234.43 1044.55h3.28v5.86h-3.28zM237.01 1044.55h3.28v5.86h-3.28zM239.59 1044.55h3.28v5.86h-3.28zM242.17 1041.97h3.28v8.44h-3.28zM244.75 1047.13h3.28v5.86h-3.28zM247.33 1047.13h3.28v3.28h-3.28zM249.91 1041.97h3.28v8.44h-3.28zM252.49 1044.55h3.28v8.44h-3.28zM255.07 1041.97h3.28v8.44h-3.28zM257.65 1039.39h3.28v11.02h-3.28zM260.23 1041.97h3.28v5.86h-3.28zM262.81 1047.13h3.28v3.28h-3.28zM265.39 1047.13h3.28v3.28h-3.28zM267.97 1041.97h3.28v5.86h-3.28zM270.55 1039.39h3.28v8.44h-3.28zM273.13 1041.97h3.28v5.86h-3.28zM275.71 1041.97h3.28v3.28h-3.28zM278.29 1041.97h3.28v8.44h-3.28zM280.87 1041.97h3.28v5.86h-3.28zM283.45 1036.81h3.28v8.44h-3.28zM286.03 1036.81h3.28v3.28h-3.28zM288.61 1034.23h3.28v23.92h-3.28zM291.19 1039.39h3.28v13.6h-3.28zM293.77 1039.39h3.28v3.28h-3.28zM296.35 1034.23h3.28v5.86h-3.28zM298.93 1039.39h3.28v3.28h-3.28zM301.51 1039.39h3.28v5.86h-3.28zM304.09 1029.07h3.28v11.02h-3.28zM306.67 1039.39h3.28v3.28h-3.28zM309.25 1036.81h3.28v5.86h-3.28zM311.83 1036.81h3.28v3.28h-3.28zM314.41 1034.23h3.28v3.28h-3.28zM316.99 1031.65h3.28v5.86h-3.28zM319.57 1031.65h3.28v3.28h-3.28zM322.15 1031.65h3.28v5.86h-3.28zM324.73 1034.23h3.28v3.28h-3.28zM327.31 1031.65h3.28v8.44h-3.28zM329.89 1026.49h3.28v5.86h-3.28zM332.47 1026.49h3.28v5.86h-3.28zM335.05 1026.49h3.28v5.86h-3.28zM337.63 1023.91h3.28v5.86h-3.28zM340.21 1023.91h3.28v3.28h-3.28zM342.79 1023.91h3.28v5.86h-3.28zM345.37 1021.33h3.28v8.44h-3.28zM347.95 1023.91h3.28v5.86h-3.28zM350.53 1023.91h3.28v3.28h-3.28zM353.11 1021.33h3.28v5.86h-3.28zM355.69 1023.91h3.28v5.86h-3.28zM358.27 1011.01h3.28v13.6h-3.28zM360.85 1013.59h3.28v18.76h-3.28zM363.43 1016.17h3.28v11.02h-3.28zM366.01 1013.59h3.28v5.86h-3.28zM368.59 1005.85h3.28v11.02h-3.28zM371.17 1008.43h3.28v5.86h-3.28zM373.75 1008.43h3.28v5.86h-3.28zM376.33 1003.27h3.28v8.44h-3.28zM378.91 998.11h3.28v8.44h-3.28zM381.49 1000.69h3.28v5.86h-3.28zM384.07 998.11h3.28v5.86h-3.28zM386.65 998.11h3.28v3.28h-3.28zM389.23 995.53h3.28v5.86h-3.28zM391.81 1000.69h3.28v3.28h-3.28zM394.39 995.53h3.28v5.86h-3.28zM396.97 992.95h3.28v3.28h-3.28zM399.55 992.95h3.28v3.28h-3.28zM402.13 990.37h3.28v11.02h-3.28zM404.71 985.21h3.28v11.02h-3.28zM407.29 980.05h3.28v5.86h-3.28zM409.87 980.05h3.28v3.28h-3.28zM412.45 977.47h3.28v5.86h-3.28zM415.03 972.31h3.28v5.86h-3.28zM417.61 969.73h3.28v5.86h-3.28zM420.19 964.57h3.28v5.86h-3.28zM422.77 954.25h3.28v11.02h-3.28zM425.35 943.93h3.28v11.02h-3.28zM427.93 936.19h3.28v11.02h-3.28zM430.51 923.29h3.28v13.6h-3.28zM433.09 920.71h3.28v3.28h-3.28zM435.67 918.13h3.28v8.44h-3.28zM438.25 912.97h3.28v8.44h-3.28zM440.83 905.23h3.28v8.44h-3.28zM443.41 900.07h3.28v5.86h-3.28zM445.99 894.91h3.28v8.44h-3.28zM448.57 892.33h3.28v11.02h-3.28zM451.15 894.91h3.28v8.44h-3.28zM453.73 889.75h3.28v11.02h-3.28zM456.31 897.49h3.28v8.44h-3.28zM458.89 905.23h3.28v11.02h-3.28zM461.47 910.39h3.28v3.28h-3.28zM464.05 902.65h3.28v8.44h-3.28zM466.63 900.07h3.28v8.44h-3.28zM469.21 887.17h3.28v13.6h-3.28zM471.79 882.01h3.28v8.44h-3.28zM474.37 874.27h3.28v8.44h-3.28zM476.95 869.11h3.28v8.44h-3.28zM479.53 856.21h3.28v13.6h-3.28zM482.11 863.95h3.28v3.28h-3.28zM484.69 861.37h3.28v11.02h-3.28zM487.27 869.11h3.28v5.86h-3.28zM489.85 874.27h3.28v11.02h-3.28zM492.43 884.59h3.28v21.34h-3.28zM495.01 902.65h3.28v5.86h-3.28zM497.59 897.49h3.28v16.18h-3.28zM500.17 910.39h3.28v11.02h-3.28zM502.75 915.55h3.28v3.28h-3.28zM505.33 915.55h3.28v13.6h-3.28zM507.91 923.29h3.28v5.86h-3.28zM510.49 923.29h3.28v3.28h-3.28zM513.07 925.87h3.28v11.02h-3.28zM515.65 931.03h3.28v13.6h-3.28zM518.23 933.61h3.28v8.44h-3.28zM520.81 941.35h3.28v11.02h-3.28zM523.39 943.93h3.28v5.86h-3.28zM525.97 946.51h3.28v5.86h-3.28zM528.55 946.51h3.28v5.86h-3.28zM531.13 951.67h3.28v3.28h-3.28zM533.71 951.67h3.28v3.28h-3.28zM536.29 949.09h3.28v5.86h-3.28zM538.87 949.09h3.28v5.86h-3.28zM541.45 951.67h3.28v8.44h-3.28zM544.03 956.83h3.28v3.28h-3.28zM546.61 951.67h3.28v8.44h-3.28zM549.19 954.25h3.28v5.86h-3.28zM551.77 954.25h3.28v3.28h-3.28zM554.35 954.25h3.28v5.86h-3.28zM556.93 959.41h3.28v3.28h-3.28zM559.51 959.41h3.28v3.28h-3.28zM562.09 959.41h3.28v5.86h-3.28zM564.67 959.41h3.28v8.44h-3.28zM567.25 961.99h3.28v3.28h-3.28zM569.83 961.99h3.28v3.28h-3.28zM572.41 961.99h3.28v5.86h-3.28zM574.99 964.57h3.28v5.86h-3.28zM577.57 961.99h3.28v11.02h-3.28zM580.15 961.99h3.28v5.86h-3.28zM582.73 956.83h3.28v13.6h-3.28zM585.31 967.15h3.28v8.44h-3.28zM587.89 969.73h3.28v3.28h-3.28zM590.47 967.15h3.28v5.86h-3.28zM593.05 964.57h3.28v5.86h-3.28zM595.63 967.15h3.28v3.28h-3.28zM598.21 967.15h3.28v3.28h-3.28zM600.79 964.57h3.28v3.28h-3.28zM603.37 961.99h3.28v5.86h-3.28zM605.95 956.83h3.28v5.86h-3.28zM608.53 959.41h3.28v5.86h-3.28zM611.11 954.25h3.28v5.86h-3.28zM613.69 959.41h3.28v5.86h-3.28zM616.27 959.41h3.28v3.28h-3.28zM618.85 956.83h3.28v5.86h-3.28zM621.43 949.09h3.28v11.02h-3.28zM624.01 938.77h3.28v11.02h-3.28zM626.59 931.03h3.28v11.02h-3.28zM629.17 920.71h3.28v11.02h-3.28zM631.75 915.55h3.28v11.02h-3.28zM634.33 910.39h3.28v5.86h-3.28zM636.91 900.07h3.28v11.02h-3.28zM639.49 887.17h3.28v13.6h-3.28zM642.07 871.69h3.28v16.18h-3.28zM644.65 858.79h3.28v13.6h-3.28zM647.23 853.63h3.28v5.86h-3.28zM649.81 853.63h3.28v5.86h-3.28zM652.39 858.79h3.28v8.44h-3.28zM654.97 866.53h3.28v18.76h-3.28zM657.55 884.59h3.28v16.18h-3.28zM660.13 897.49h3.28v16.18h-3.28zM662.71 910.39h3.28v3.28h-3.28zM665.29 910.39h3.28v8.44h-3.28zM667.87 907.81h3.28v11.02h-3.28zM670.45 918.13h3.28v5.86h-3.28zM673.03 912.97h3.28v11.02h-3.28zM675.61 915.55h3.28v3.28h-3.28zM678.19 915.55h3.28v3.28h-3.28zM680.77 912.97h3.28v3.28h-3.28zM683.35 912.97h3.28v5.86h-3.28zM685.93 910.39h3.28v3.28h-3.28zM688.51 907.81h3.28v3.28h-3.28zM691.09 905.23h3.28v16.18h-3.28zM693.67 900.07h3.28v8.44h-3.28zM696.25 902.65h3.28v5.86h-3.28zM698.83 900.07h3.28v11.02h-3.28zM701.41 907.81h3.28v11.02h-3.28zM703.99 910.39h3.28v8.44h-3.28zM706.57 907.81h3.28v5.86h-3.28zM709.15 910.39h3.28v3.28h-3.28zM711.73 910.39h3.28v11.02h-3.28zM714.31 905.23h3.28v13.6h-3.28zM716.89 900.07h3.28v11.02h-3.28zM719.47 907.81h3.28v3.28h-3.28zM722.05 902.65h3.28v8.44h-3.28zM724.63 902.65h3.28v5.86h-3.28zM727.21 900.07h3.28v5.86h-3.28zM729.79 905.23h3.28v8.44h-3.28zM732.37 910.39h3.28v8.44h-3.28zM734.95 910.39h3.28v3.28h-3.28zM737.53 907.81h3.28v5.86h-3.28zM740.11 905.23h3.28v3.28h-3.28zM742.69 902.65h3.28v3.28h-3.28zM745.27 905.23h3.28v5.86h-3.28zM747.85 900.07h3.28v5.86h-3.28zM750.43 897.49h3.28v5.86h-3.28zM753.01 892.33h3.28v8.44h-3.28zM755.59 889.75h3.28v18.76h-3.28zM758.17 887.17h3.28v13.6h-3.28zM760.75 894.91h3.28v3.28h-3.28zM763.33 894.91h3.28v3.28h-3.28zM765.91 892.33h3.28v5.86h-3.28zM768.49 889.75h3.28v8.44h-3.28zM771.07 884.59h3.28v8.44h-3.28zM773.65 884.59h3.28v5.86h-3.28zM776.23 871.69h3.28v21.34h-3.28zM778.81 866.53h3.28v8.44h-3.28zM781.39 866.53h3.28v5.86h-3.28zM783.97 853.63h3.28v13.6h-3.28zM786.55 848.47h3.28v5.86h-3.28zM789.13 843.31h3.28v8.44h-3.28zM791.71 835.57h3.28v8.44h-3.28zM794.29 835.57h3.28v8.44h-3.28zM796.87 840.73h3.28v8.44h-3.28zM799.45 845.89h3.28v11.02h-3.28zM802.03 851.05h3.28v5.86h-3.28zM804.61 856.21h3.28v16.18h-3.28zM807.19 871.69h3.28v16.18h-3.28zM809.77 887.17h3.28v11.02h-3.28zM812.35 897.49h3.28v3.28h-3.28zM814.93 900.07h3.28v8.44h-3.28zM817.51 907.81h3.28v3.28h-3.28zM820.09 910.39h3.28v11.02h-3.28zM822.67 920.71h3.28v3.28h-3.28zM825.25 920.71h3.28v5.86h-3.28zM827.83 925.87h3.28v5.86h-3.28zM830.41 928.45h3.28v5.86h-3.28zM832.99 925.87h3.28v11.02h-3.28zM835.57 936.19h3.28v3.28h-3.28zM838.15 933.61h3.28v3.28h-3.28zM840.73 931.03h3.28v11.02h-3.28zM843.31 928.45h3.28v8.44h-3.28zM845.89 936.19h3.28v13.6h-3.28zM848.47 936.19h3.28v11.02h-3.28zM851.05 938.77h3.28v11.02h-3.28zM853.63 936.19h3.28v8.44h-3.28zM856.21 936.19h3.28v8.44h-3.28zM858.79 941.35h3.28v5.86h-3.28zM861.37 938.77h3.28v11.02h-3.28zM863.95 946.51h3.28v5.86h-3.28zM866.53 949.09h3.28v3.28h-3.28zM869.11 946.51h3.28v5.86h-3.28zM871.69 951.67h3.28v13.6h-3.28zM874.27 949.09h3.28v8.44h-3.28zM876.85 949.09h3.28v13.6h-3.28zM879.43 941.35h3.28v13.6h-3.28zM882.01 938.77h3.28v18.76h-3.28zM884.59 946.51h3.28v5.86h-3.28zM887.17 943.93h3.28v16.18h-3.28zM889.75 951.67h3.28v5.86h-3.28zM892.33 956.83h3.28v8.44h-3.28zM894.91 961.99h3.28v5.86h-3.28zM897.49 967.15h3.28v3.28h-3.28zM900.07 964.57h3.28v5.86h-3.28zM902.65 967.15h3.28v3.28h-3.28zM905.23 964.57h3.28v3.28h-3.28zM907.81 961.99h3.28v5.86h-3.28zM910.39 961.99h3.28v5.86h-3.28zM912.97 961.99h3.28v3.28h-3.28zM915.55 961.99h3.28v5.86h-3.28zM918.13 961.99h3.28v3.28h-3.28zM920.71 961.99h3.28v3.28h-3.28zM923.29 959.41h3.28v3.28h-3.28zM925.87 959.41h3.28v3.28h-3.28zM928.45 959.41h3.28v11.02h-3.28zM931.03 964.57h3.28v16.18h-3.28zM933.61 964.57h3.28v3.28h-3.28zM936.19 967.15h3.28v3.28h-3.28zM938.77 969.73h3.28v5.86h-3.28zM941.35 969.73h3.28v8.44h-3.28zM943.93 967.15h3.28v3.28h-3.28zM946.51 967.15h3.28v5.86h-3.28zM949.09 969.73h3.28v3.28h-3.28zM951.67 972.31h3.28v5.86h-3.28zM954.25 969.73h3.28v5.86h-3.28zM956.83 969.73h3.28v8.44h-3.28zM959.41 972.31h3.28v5.86h-3.28zM961.99 969.73h3.28v5.86h-3.28zM964.57 969.73h3.28v3.28h-3.28zM967.15 972.31h3.28v3.28h-3.28zM969.73 974.89h3.28v5.86h-3.28zM972.31 972.31h3.28v5.86h-3.28zM974.89 972.31h3.28v11.02h-3.28zM977.47 972.31h3.28v11.02h-3.28zM980.05 974.89h3.28v8.44h-3.28zM982.63 974.89h3.28v3.28h-3.28zM985.21 974.89h3.28v5.86h-3.28zM987.79 972.31h3.28v3.28h-3.28zM990.37 972.31h3.28v16.18h-3.28zM992.95 969.73h3.28v5.86h-3.28zM995.53 964.57h3.28v13.6h-3.28zM998.11 964.57h3.28v3.28h-3.28zM1000.69 964.57h3.28v3.28h-3.28zM1003.27 961.99h3.28v11.02h-3.28zM1005.85 961.99h3.28v8.44h-3.28zM1008.43 961.99h3.28v3.28h-3.28zM1011.01 961.99h3.28v5.86h-3.28zM1013.59 961.99h3.28v8.44h-3.28zM1016.17 956.83h3.28v13.6h-3.28zM1018.75 956.83h3.28v8.44h-3.28zM1021.33 959.41h3.28v11.02h-3.28zM1023.91 959.41h3.28v11.02h-3.28zM1026.49 967.15h3.28v11.02h-3.28zM1029.07 974.89h3.28v3.28h-3.28zM1031.65 974.89h3.28v11.02h-3.28zM1034.23 982.63h3.28v8.44h-3.28zM1036.81 987.79h3.28v5.86h-3.28zM1039.39 987.79h3.28v5.86h-3.28zM1041.97 987.79h3.28v5.86h-3.28zM1044.55 992.95h3.28v5.86h-3.28zM1047.13 990.37h3.28v5.86h-3.28zM1049.71 995.53h3.28v3.28h-3.28zM1052.29 992.95h3.28v5.86h-3.28zM1054.87 995.53h3.28v3.28h-3.28zM1057.45 987.79h3.28v13.6h-3.28zM1060.03 985.21h3.28v16.18h-3.28zM1062.61 990.37h3.28v8.44h-3.28zM1065.19 998.11h3.28v3.28h-3.28zM1067.77 998.11h3.28v5.86h-3.28zM1070.35 1000.69h3.28v8.44h-3.28zM1072.93 1000.69h3.28v8.44h-3.28zM1075.51 1000.69h3.28v13.6h-3.28zM1078.09 1000.69h3.28v13.6h-3.28zM1080.67 1013.59h3.28v3.28h-3.28zM1083.25 1016.17h3.28v5.86h-3.28zM1085.83 1016.17h3.28v11.02h-3.28zM1088.41 1011.01h3.28v16.18h-3.28zM1090.99 1011.01h3.28v13.6h-3.28zM1093.57 1018.75h3.28v5.86h-3.28zM1096.15 1018.75h3.28v5.86h-3.28zM1098.73 1023.91h3.28v8.44h-3.28zM1101.31 1021.33h3.28v5.86h-3.28zM1103.89 1021.33h3.28v11.02h-3.28zM1106.47 1023.91h3.28v8.44h-3.28zM1109.05 1023.91h3.28v3.28h-3.28zM1111.63 1023.91h3.28v3.28h-3.28zM1114.21 1023.91h3.28v3.28h-3.28zM1116.79 1026.49h3.28v3.28h-3.28zM1119.37 1026.49h3.28v5.86h-3.28zM1121.95 1018.75h3.28v13.6h-3.28zM1124.53 1018.75h3.28v13.6h-3.28zM1127.11 1021.33h3.28v16.18h-3.28zM1129.69 1021.33h3.28v13.6h-3.28zM1132.27 1034.23h3.28v3.28h-3.28zM1134.85 1034.23h3.28v8.44h-3.28zM1137.43 1034.23h3.28v8.44h-3.28zM1140.01 1034.23h3.28v3.28h-3.28zM1142.59 1034.23h3.28v8.44h-3.28zM1145.17 1034.23h3.28v3.28h-3.28zM1147.75 1031.65h3.28v8.44h-3.28zM1150.33 1031.65h3.28v5.86h-3.28zM1152.91 1031.65h3.28v8.44h-3.28zM1155.49 1031.65h3.28v8.44h-3.28zM1158.07 1036.81h3.28v3.28h-3.28zM1160.65 1036.81h3.28v5.86h-3.28zM1163.23 1031.65h3.28v11.02h-3.28zM1165.81 1031.65h3.28v3.28h-3.28zM1168.39 1029.07h3.28v5.86h-3.28zM1170.97 1026.49h3.28v8.44h-3.28zM1173.55 1026.49h3.28v8.44h-3.28zM1176.13 1029.07h3.28v13.6h-3.28zM1178.71 1036.81h3.28v13.6h-3.28zM1181.29 1036.81h3.28v5.86h-3.28zM1183.87 1039.39h3.28v5.86h-3.28zM1186.45 1039.39h3.28v16.18h-3.28zM1189.03 1039.39h3.28v3.28h-3.28zM1191.61 1039.39h3.28v5.86h-3.28zM1194.19 1039.39h3.28v11.02h-3.28zM1196.77 1041.97h3.28v8.44h-3.28zM1199.35 1041.97h3.28v3.28h-3.28zM1201.93 1039.39h3.28v11.02h-3.28zM1204.51 1039.39h3.28v8.44h-3.28zM1207.09 1044.55h3.28v8.44h-3.28zM1209.67 1044.55h3.28v5.86h-3.28zM1212.25 1044.55h3.28v3.28h-3.28zM1214.83 1047.13h3.28v3.28h-3.28zM1217.41 1041.97h3.28v8.44h-3.28zM1219.99 1039.39h3.28v11.02h-3.28zM1222.57 1039.39h3.28v8.44h-3.28zM1225.15 1044.55h3.28v8.44h-3.28zM1227.73 1039.39h3.28v13.6h-3.28zM1230.31 1041.97h3.28v13.6h-3.28zM1232.89 1049.71h3.28v8.44h-3.28zM1235.47 1057.45h3.28v5.86h-3.28zM1238.05 1057.45h3.28v5.86h-3.28zM1240.63 1060.03h3.28v5.86h-3.28zM1243.21 1060.03h3.28v8.44h-3.28zM1245.79 1067.77h3.28v3.28h-3.28zM1248.37 1060.03h3.28v8.44h-3.28zM1250.95 1054.87h3.28v11.02h-3.28zM1253.53 1052.29h3.28v5.86h-3.28zM1256.11 1052.29h3.28v3.28h-3.28zM1258.69 1044.55h3.28v8.44h-3.28zM1261.27 1041.97h3.28v5.86h-3.28zM1263.85 1036.81h3.28v11.02h-3.28zM1266.43 1039.39h3.28v5.86h-3.28zM1269.01 1041.97h3.28v5.86h-3.28zM1271.59 1041.97h3.28v5.86h-3.28zM1274.17 1039.39h3.28v3.28h-3.28zM1276.75 1041.97h3.28v8.44h-3.28zM1279.33 1049.71h3.28v3.28h-3.28zM1281.91 1047.13h3.28v11.02h-3.28zM1284.49 1047.13h3.28v11.02h-3.28zM1287.07 1054.87h3.28v8.44h-3.28zM1289.65 1054.87h3.28v3.28h-3.28zM1292.23 1052.29h3.28v5.86h-3.28zM1294.81 1052.29h3.28v8.44h-3.28zM1297.39 1047.13h3.28v8.44h-3.28zM1299.97 1054.87h3.28v8.44h-3.28zM1302.55 1057.45h3.28v8.44h-3.28zM1305.13 1057.45h3.28v5.86h-3.28zM1307.71 1060.03h3.28v8.44h-3.28zM1310.29 1065.19h3.28v3.28h-3.28zM1312.87 1065.19h3.28v5.86h-3.28zM1315.45 1070.35h3.28v3.28h-3.28zM1318.03 1070.35h3.28v5.86h-3.28zM1320.61 1067.77h3.28v3.28h-3.28zM1323.19 1070.35h3.28v5.86h-3.28zM1325.77 1067.77h3.28v3.28h-3.28zM1328.35 1060.03h3.28v8.44h-3.28zM1330.93 1047.13h3.28v16.18h-3.28zM1333.51 1034.23h3.28v13.6h-3.28zM1336.09 1003.27h3.28v31.66h-3.28zM1338.67 961.99h3.28v41.98h-3.28zM1341.25 943.93h3.28v18.76h-3.28zM1343.83 946.51h3.28v11.02h-3.28zM1346.41 956.83h3.28v29.08h-3.28zM1348.99 985.21h3.28v13.6h-3.28zM1351.57 998.11h3.28v23.92h-3.28zM1354.15 1021.33h3.28v21.34h-3.28zM1356.73 1041.97h3.28v11.02h-3.28zM1359.31 1052.29h3.28v11.02h-3.28zM1361.89 1062.61h3.28v8.44h-3.28zM1364.47 1057.45h3.28v8.44h-3.28zM1367.05 1054.87h3.28v3.28h-3.28zM1369.63 1052.29h3.28v8.44h-3.28zM1372.21 1052.29h3.28v5.86h-3.28zM1374.79 1047.13h3.28v5.86h-3.28zM1377.37 1039.39h3.28v11.02h-3.28zM1379.95 1039.39h3.28v3.28h-3.28zM1382.53 1041.97h3.28v8.44h-3.28zM1385.11 1041.97h3.28v13.6h-3.28zM1387.69 1044.55h3.28v8.44h-3.28zM1390.27 1049.71h3.28v3.28h-3.28zM1392.85 1052.29h3.28v11.02h-3.28zM1395.43 1054.87h3.28v3.28h-3.28zM1398.01 1054.87h3.28v5.86h-3.28zM1400.59 1049.71h3.28v11.02h-3.28zM1403.17 1049.71h3.28v8.44h-3.28zM1405.75 1052.29h3.28v3.28h-3.28zM1408.33 1049.71h3.28v3.28h-3.28zM1410.91 1047.13h3.28v3.28h-3.28zM1413.49 1041.97h3.28v5.86h-3.28zM1416.07 1039.39h3.28v3.28h-3.28zM1418.65 1036.81h3.28v8.44h-3.28zM1421.23 1036.81h3.28v11.02h-3.28zM1423.81 1034.23h3.28v13.6h-3.28zM1426.39 1034.23h3.28v5.86h-3.28zM1428.97 1031.65h3.28v13.6h-3.28zM1431.55 1034.23h3.28v5.86h-3.28zM1434.13 1036.81h3.28v5.86h-3.28zM1436.71 1039.39h3.28v8.44h-3.28zM1439.29 1036.81h3.28v8.44h-3.28zM1441.87 1039.39h3.28v8.44h-3.28zM1444.45 1034.23h3.28v21.34h-3.28zM1447.03 1039.39h3.28v11.02h-3.28zM1449.61 1036.81h3.28v8.44h-3.28zM1452.19 1034.23h3.28v11.02h-3.28zM1454.77 1036.81h3.28v18.76h-3.28zM1457.35 1039.39h3.28v13.6h-3.28zM1459.93 1036.81h3.28v11.02h-3.28zM1462.51 1034.23h3.28v21.34h-3.28zM1465.09 1036.81h3.28v3.28h-3.28zM1467.67 1029.07h3.28v11.02h-3.28zM1470.25 1031.65h3.28v8.44h-3.28zM1472.83 1026.49h3.28v13.6h-3.28zM1475.41 1026.49h3.28v18.76h-3.28zM1477.99 1031.65h3.28v13.6h-3.28zM1480.57 1039.39h3.28v8.44h-3.28zM1483.15 1047.13h3.28v11.02h-3.28zM1485.73 1049.71h3.28v5.86h-3.28zM1488.31 1054.87h3.28v5.86h-3.28zM1490.89 1060.03h3.28v5.86h-3.28zM1493.47 1065.19h3.28v5.86h-3.28zM1496.05 1065.19h3.28v5.86h-3.28zM1498.63 1065.19h3.28v5.86h-3.28zM1501.21 1070.35h3.28v3.28h-3.28zM1503.79 1070.35h3.28v5.86h-3.28zM1506.37 1070.35h3.28v5.86h-3.28zM1508.95 1067.77h3.28v11.02h-3.28zM1511.53 1078.09h3.28v5.86h-3.28zM1514.11 1083.25h3.28v3.28h-3.28zM1516.69 1080.67h3.28v5.86h-3.28zM1519.27 1083.25h3.28v8.44h-3.28zM1521.85 1080.67h3.28v8.44h-3.28zM1524.43 1072.93h3.28v13.6h-3.28zM1527.01 1072.93h3.28v13.6h-3.28zM1529.59 1070.35h3.28v11.02h-3.28zM1532.17 1065.19h3.28v5.86h-3.28zM1534.75 1067.77h3.28v3.28h-3.28zM1537.33 1062.61h3.28v8.44h-3.28zM1539.91 1057.45h3.28v8.44h-3.28zM1542.49 1062.61h3.28v8.44h-3.28zM1545.07 1062.61h3.28v5.86h-3.28zM1547.65 1057.45h3.28v8.44h-3.28zM1550.23 1049.71h3.28v8.44h-3.28zM1552.81 1039.39h3.28v11.02h-3.28zM1555.39 1011.01h3.28v29.08h-3.28zM1557.97 998.11h3.28v13.6h-3.28zM1560.55 1000.69h3.28v5.86h-3.28zM1563.13 1005.85h3.28v11.02h-3.28zM1565.71 1016.17h3.28v8.44h-3.28zM1568.29 1003.27h3.28v16.18h-3.28zM1570.87 998.11h3.28v11.02h-3.28zM1573.45 995.53h3.28v5.86h-3.28zM1576.03 1000.69h3.28v11.02h-3.28zM1578.61 1011.01h3.28v23.92h-3.28zM1581.19 1034.23h3.28v8.44h-3.28zM1583.77 1041.97h3.28v13.6h-3.28zM1586.35 1054.87h3.28v5.86h-3.28zM1588.93 1057.45h3.28v5.86h-3.28zM1591.51 1062.61h3.28v5.86h-3.28zM1594.09 1067.77h3.28v5.86h-3.28zM1596.67 1070.35h3.28v3.28h-3.28zM1599.25 1070.35h3.28v5.86h-3.28zM1601.83 1072.93h3.28v3.28h-3.28zM1604.41 1075.51h3.28v5.86h-3.28zM1606.99 1075.51h3.28v3.28h-3.28zM1609.57 1075.51h3.28v5.86h-3.28zM1612.15 1078.09h3.28v5.86h-3.28zM1614.73 1080.67h3.28v3.28h-3.28zM1617.31 1080.67h3.28v3.28h-3.28zM1619.89 1080.67h3.28v5.86h-3.28zM1622.47 1083.25h3.28v5.86h-3.28zM1625.05 1078.09h3.28v5.86h-3.28zM1627.63 1070.35h3.28v8.44h-3.28zM1630.21 1070.35h3.28v8.44h-3.28zM1632.79 1065.19h3.28v11.02h-3.28zM1635.37 1057.45h3.28v11.02h-3.28zM1637.95 1054.87h3.28v5.86h-3.28zM1640.53 1047.13h3.28v8.44h-3.28zM1643.11 1041.97h3.28v11.02h-3.28zM1645.69 1039.39h3.28v5.86h-3.28zM1648.27 1026.49h3.28v13.6h-3.28zM1650.85 1026.49h3.28v5.86h-3.28zM1653.43 1013.59h3.28v13.6h-3.28zM1656.01 1013.59h3.28v11.02h-3.28zM1658.59 1005.85h3.28v8.44h-3.28zM1661.17 998.11h3.28v8.44h-3.28zM1663.75 1003.27h3.28v5.86h-3.28zM1666.33 1000.69h3.28v8.44h-3.28zM1668.91 998.11h3.28v8.44h-3.28zM1671.49 998.11h3.28v8.44h-3.28zM1674.07 1000.69h3.28v8.44h-3.28zM1676.65 1008.43h3.28v3.28h-3.28zM1679.23 1011.01h3.28v8.44h-3.28zM1681.81 1018.75h3.28v5.86h-3.28zM1684.39 1016.17h3.28v11.02h-3.28zM1686.97 1018.75h3.28v11.02h-3.28zM1689.55 1016.17h3.28v8.44h-3.28zM1692.13 1016.17h3.28v5.86h-3.28zM1694.71 1013.59h3.28v11.02h-3.28zM1697.29 1008.43h3.28v8.44h-3.28zM1699.87 1005.85h3.28v3.28h-3.28zM1702.45 998.11h3.28v8.44h-3.28zM1705.03 1000.69h3.28v5.86h-3.28zM1707.61 1003.27h3.28v3.28h-3.28zM1710.19 1003.27h3.28v3.28h-3.28zM1712.77 1000.69h3.28v3.28h-3.28zM1715.35 998.11h3.28v8.44h-3.28zM1717.93 1000.69h3.28v5.86h-3.28zM1720.51 998.11h3.28v11.02h-3.28zM1723.09 995.53h3.28v3.28h-3.28zM1725.67 987.79h3.28v8.44h-3.28zM1728.25 982.63h3.28v11.02h-3.28zM1730.83 977.47h3.28v11.02h-3.28zM1733.41 977.47h3.28v5.86h-3.28zM1735.99 967.15h3.28v13.6h-3.28zM1738.57 969.73h3.28v11.02h-3.28zM1741.15 977.47h3.28v11.02h-3.28zM1743.73 977.47h3.28v3.28h-3.28zM1746.31 980.05h3.28v5.86h-3.28zM1748.89 985.21h3.28v8.44h-3.28zM1751.47 987.79h3.28v8.44h-3.28zM1754.05 990.37h3.28v5.86h-3.28zM1756.63 995.53h3.28v3.28h-3.28zM1759.21 998.11h3.28v5.86h-3.28zM1761.79 1003.27h3.28v13.6h-3.28zM1764.37 1016.17h3.28v13.6h-3.28zM1766.95 1026.49h3.28v8.44h-3.28zM1769.53 1018.75h3.28v11.02h-3.28zM1772.11 1026.49h3.28v5.86h-3.28zM1774.69 1016.17h3.28v11.02h-3.28zM1777.27 1023.91h3.28v5.86h-3.28zM1779.85 1023.91h3.28v5.86h-3.28zM1782.43 1023.91h3.28v3.28h-3.28zM1785.01 1021.33h3.28v8.44h-3.28zM1787.59 1023.91h3.28v8.44h-3.28zM1790.17 1029.07h3.28v5.86h-3.28zM1792.75 1031.65h3.28v3.28h-3.28zM1795.33 1034.23h3.28v5.86h-3.28zM1797.91 1039.39h3.28v5.86h-3.28zM1800.49 1039.39h3.28v3.28h-3.28zM1803.07 1036.81h3.28v8.44h-3.28zM1805.65 1036.81h3.28v5.86h-3.28zM1808.23 1036.81h3.28v5.86h-3.28zM1810.81 1036.81h3.28v8.44h-3.28zM1813.39 1036.81h3.28v5.86h-3.28zM1815.97 1034.23h3.28v5.86h-3.28zM1818.55 1034.23h3.28v5.86h-3.28zM1821.13 1031.65h3.28v5.86h-3.28zM1823.71 1026.49h3.28v8.44h-3.28zM1826.29 1018.75h3.28v8.44h-3.28zM1828.87 1011.01h3.28v8.44h-3.28zM1831.45 1008.43h3.28v13.6h-3.28zM1834.03 1008.43h3.28v11.02h-3.28zM1836.61 1013.59h3.28v3.28h-3.28zM1839.19 1016.17h3.28v5.86h-3.28zM1841.77 1021.33h3.28v8.44h-3.28zM1844.35 1023.91h3.28v8.44h-3.28zM1846.93 1026.49h3.28v8.44h-3.28zM1849.51 1026.49h3.28v8.44h-3.28zM1852.09 1021.33h3.28v5.86h-3.28zM1854.67 1021.33h3.28v5.86h-3.28zM1857.25 1018.75h3.28v8.44h-3.28zM1859.83 1021.33h3.28v8.44h-3.28zM1862.41 1018.75h3.28v5.86h-3.28zM1864.99 1018.75h3.28v5.86h-3.28zM1867.57 1016.17h3.28v11.02h-3.28zM1870.15 1021.33h3.28v3.28h-3.28zM1872.73 1018.75h3.28v8.44h-3.28zM1875.31 1021.33h3.28v3.28h-3.28zM1877.89 1023.91h3.28v5.86h-3.28zM1880.47 1026.49h3.28v3.28h-3.28zM1883.05 1029.07h3.28v13.6h-3.28zM1885.63 1034.23h3.28v13.6h-3.28zM1888.21 1036.81h3.28v3.28h-3.28zM1890.79 1039.39h3.28v3.28h-3.28zM1893.37 1034.23h3.28v8.44h-3.28zM1895.95 1036.81h3.28v5.86h-3.28zM1898.53 1036.81h3.28v3.28h-3.28zM1901.11 1029.07h3.28v11.02h-3.28zM1903.69 1029.07h3.28v3.28h-3.28zM1906.27 1021.33h3.28v11.02h-3.28zM1908.85 1011.01h3.28v11.02h-3.28zM1911.43 1005.85h3.28v11.02h-3.28zM1914.01 1005.85h3.28v5.86h-3.28zM1916.59 1003.27h3.28v5.86h-3.28zM1919.17 1000.69h3.28v5.86h-3.28zM1921.75 1003.27h3.28v5.86h-3.28zM1924.33 1003.27h3.28v8.44h-3.28zM1926.91 992.95h3.28v16.18h-3.28zM1929.49 1003.27h3.28v8.44h-3.28zM1932.07 1005.85h3.28v3.28h-3.28zM1934.65 1003.27h3.28v5.86h-3.28zM1937.23 1003.27h3.28v5.86h-3.28zM1939.81 1000.69h3.28v8.44h-3.28zM1942.39 1000.69h3.28v3.28h-3.28zM1944.97 995.53h3.28v5.86h-3.28zM1947.55 990.37h3.28v8.44h-3.28zM1950.13 974.89h3.28v18.76h-3.28zM1952.71 956.83h3.28v18.76h-3.28zM1955.29 949.09h3.28v8.44h-3.28zM1957.87 949.09h3.28v5.86h-3.28zM1960.45 936.19h3.28v13.6h-3.28zM1963.03 928.45h3.28v8.44h-3.28zM1965.61 925.87h3.28v5.86h-3.28zM1968.19 923.29h3.28v5.86h-3.28zM1970.77 923.29h3.28v8.44h-3.28zM1973.35 915.55h3.28v11.02h-3.28zM1975.93 897.49h3.28v21.34h-3.28zM1978.51 887.17h3.28v11.02h-3.28zM1981.09 874.27h3.28v13.6h-3.28zM1983.67 879.43h3.28v11.02h-3.28zM1986.25 889.75h3.28v23.92h-3.28zM1988.83 912.97h3.28v26.5h-3.28zM1991.41 938.77h3.28v31.66h-3.28zM1993.99 967.15h3.28v13.6h-3.28zM1996.57 980.05h3.28v11.02h-3.28zM1999.15 987.79h3.28v5.86h-3.28zM2001.73 992.95h3.28v5.86h-3.28zM2004.31 995.53h3.28v8.44h-3.28zM2006.89 1003.27h3.28v3.28h-3.28zM2009.47 995.53h3.28v8.44h-3.28zM2012.05 992.95h3.28v3.28h-3.28zM2014.63 990.37h3.28v5.86h-3.28zM2017.21 987.79h3.28v3.28h-3.28zM2019.79 985.21h3.28v3.28h-3.28zM2022.37 974.89h3.28v11.02h-3.28zM2024.95 974.89h3.28v8.44h-3.28zM2027.53 980.05h3.28v8.44h-3.28zM2030.11 987.79h3.28v16.18h-3.28zM2032.69 995.53h3.28v11.02h-3.28zM2035.27 995.53h3.28v11.02h-3.28zM2037.85 998.11h3.28v5.86h-3.28zM2040.43 1000.69h3.28v3.28h-3.28zM2043.01 1000.69h3.28v3.28h-3.28zM2045.59 1003.27h3.28v3.28h-3.28zM2048.17 998.11h3.28v8.44h-3.28zM2050.75 995.53h3.28v8.44h-3.28zM2053.33 992.95h3.28v8.44h-3.28zM2055.91 990.37h3.28v5.86h-3.28zM2058.49 987.79h3.28v8.44h-3.28zM2061.07 982.63h3.28v16.18h-3.28zM2063.65 980.05h3.28v11.02h-3.28zM2066.23 985.21h3.28v8.44h-3.28zM2068.81 982.63h3.28v5.86h-3.28zM2071.39 987.79h3.28v5.86h-3.28zM2073.97 985.21h3.28v8.44h-3.28zM2076.55 982.63h3.28v3.28h-3.28zM2079.13 967.15h3.28v16.18h-3.28zM2081.71 969.73h3.28v8.44h-3.28zM2084.29 969.73h3.28v3.28h-3.28zM2086.87 959.41h3.28v13.6h-3.28zM2089.45 961.99h3.28v5.86h-3.28zM2092.03 967.15h3.28v13.6h-3.28zM2094.61 969.73h3.28v13.6h-3.28zM2097.19 974.89h3.28v8.44h-3.28zM2099.77 977.47h3.28v11.02h-3.28zM2102.35 985.21h3.28v3.28h-3.28zM2104.93 987.79h3.28v3.28h-3.28zM2107.51 985.21h3.28v5.86h-3.28zM2110.09 982.63h3.28v5.86h-3.28zM2112.67 985.21h3.28v5.86h-3.28zM2115.25 977.47h3.28v11.02h-3.28zM2117.83 972.31h3.28v5.86h-3.28zM2120.41 961.99h3.28v13.6h-3.28zM2122.99 961.99h3.28v3.28h-3.28zM2125.57 956.83h3.28v5.86h-3.28zM2128.15 951.67h3.28v11.02h-3.28zM2130.73 949.09h3.28v5.86h-3.28zM2133.31 951.67h3.28v3.28h-3.28zM2135.89 941.35h3.28v11.02h-3.28zM2138.47 941.35h3.28v5.86h-3.28zM2141.05 943.93h3.28v3.28h-3.28zM2143.63 936.19h3.28v11.02h-3.28zM2146.21 933.61h3.28v5.86h-3.28zM2148.79 936.19h3.28v3.28h-3.28zM2151.37 931.03h3.28v5.86h-3.28zM2153.95 923.29h3.28v8.44h-3.28zM2156.53 931.03h3.28v3.28h-3.28zM2159.11 931.03h3.28v11.02h-3.28zM2161.69 933.61h3.28v11.02h-3.28zM2164.27 928.45h3.28v16.18h-3.28zM2166.85 933.61h3.28v3.28h-3.28zM2169.43 931.03h3.28v3.28h-3.28zM2172.01 920.71h3.28v13.6h-3.28zM2174.59 918.13h3.28v5.86h-3.28zM2177.17 910.39h3.28v8.44h-3.28zM2179.75 905.23h3.28v5.86h-3.28zM2182.33 892.33h3.28v16.18h-3.28zM2184.91 882.01h3.28v13.6h-3.28zM2187.49 871.69h3.28v13.6h-3.28zM2190.07 861.37h3.28v11.02h-3.28zM2192.65 848.47h3.28v13.6h-3.28zM2195.23 835.57h3.28v16.18h-3.28zM2197.81 817.51h3.28v18.76h-3.28zM2200.39 802.03h3.28v16.18h-3.28zM2202.97 786.55h3.28v16.18h-3.28zM2205.55 773.65h3.28v18.76h-3.28zM2208.13 753.01h3.28v21.34h-3.28zM2210.71 732.37h3.28v21.34h-3.28zM2213.29 724.63h3.28v11.02h-3.28zM2215.87 657.55h3.28v67.78h-3.28zM2218.45 624.01h3.28v34.24h-3.28zM2221.03 590.47h3.28v34.24h-3.28zM2223.61 554.35h3.28v36.82h-3.28zM2226.19 518.23h3.28v36.82h-3.28zM2228.77 484.69h3.28v34.24h-3.28zM2231.35 453.73h3.28v31.66h-3.28zM2233.93 425.35h3.28v29.08h-3.28zM2236.51 404.71h3.28v21.34h-3.28zM2239.09 402.13h3.28v3.28h-3.28zM2241.67 386.65h3.28v16.18h-3.28zM2244.25 376.33h3.28v11.02h-3.28zM2246.83 368.59h3.28v8.44h-3.28zM2249.41 355.69h3.28v13.6h-3.28zM2251.99 345.37h3.28v13.6h-3.28zM2254.57 347.95h3.28v5.86h-3.28zM2257.15 347.95h3.28v11.02h-3.28zM2259.73 353.11h3.28v8.44h-3.28zM2262.31 360.85h3.28v16.18h-3.28zM2264.89 371.17h3.28v16.18h-3.28zM2267.47 386.65h3.28v21.34h-3.28zM2270.05 407.29h3.28v16.18h-3.28zM2272.63 422.77h3.28v13.6h-3.28zM2275.21 435.67h3.28v16.18h-3.28zM2277.79 451.15h3.28v18.76h-3.28zM2280.37 469.21h3.28v21.34h-3.28zM2282.95 489.85h3.28v18.76h-3.28zM2285.53 507.91h3.28v16.18h-3.28zM2288.11 523.39h3.28v11.02h-3.28zM2290.69 533.71h3.28v16.18h-3.28zM2293.27 549.19h3.28v18.76h-3.28zM2295.85 567.25h3.28v8.44h-3.28zM2298.43 574.99h3.28v16.18h-3.28zM2301.01 590.47h3.28v5.86h-3.28zM2303.59 595.63h3.28v21.34h-3.28zM2306.17 616.27h3.28v5.86h-3.28zM2308.75 616.27h3.28v5.86h-3.28zM2311.33 616.27h3.28v8.44h-3.28zM2313.91 618.85h3.28v5.86h-3.28z" fill="#808000"/>
<path d="M218.95 765.91h3.28v18.76h-3.28zM221.53 763.33h3.28v16.18h-3.28zM224.11 776.23h3.28v5.86h-3.28zM226.69 771.07h3.28v21.34h-3.28zM229.27 781.39h3.28v18.76h-3.28zM231.85 778.81h3.28v8.44h-3.28zM234.43 778.81h3.28v18.76h-3.28zM237.01 773.65h3.28v29.08h-3.28zM239.59 768.49h3.28v29.08h-3.28zM242.17 763.33h3.28v11.02h-3.28zM244.75 773.65h3.28v13.6h-3.28zM247.33 763.33h3.28v21.34h-3.28zM249.91 760.75h3.28v26.5h-3.28zM252.49 765.91h3.28v8.44h-3.28zM255.07 758.17h3.28v21.34h-3.28zM257.65 765.91h3.28v23.92h-3.28zM260.23 765.91h3.28v5.86h-3.28zM262.81 763.33h3.28v5.86h-3.28zM265.39 763.33h3.28v8.44h-3.28zM267.97 771.07h3.28v5.86h-3.28zM270.55 771.07h3.28v8.44h-3.28zM273.13 763.33h3.28v11.02h-3.28zM275.71 768.49h3.28v8.44h-3.28zM278.29 765.91h3.28v5.86h-3.28zM280.87 765.91h3.28v5.86h-3.28zM283.45 765.91h3.28v18.76h-3.28zM286.03 773.65h3.28v13.6h-3.28zM288.61 765.91h3.28v21.34h-3.28zM291.19 771.07h3.28v23.92h-3.28zM293.77 768.49h3.28v13.6h-3.28zM296.35 771.07h3.28v3.28h-3.28zM298.93 755.59h3.28v21.34h-3.28zM301.51 771.07h3.28v5.86h-3.28zM304.09 765.91h3.28v13.6h-3.28zM306.67 773.65h3.28v11.02h-3.28zM309.25 763.33h3.28v13.6h-3.28zM311.83 765.91h3.28v16.18h-3.28zM314.41 773.65h3.28v5.86h-3.28zM316.99 747.85h3.28v26.5h-3.28zM319.57 768.49h3.28v5.86h-3.28zM322.15 773.65h3.28v11.02h-3.28zM324.73 771.07h3.28v16.18h-3.28zM327.31 773.65h3.28v5.86h-3.28zM329.89 768.49h3.28v13.6h-3.28zM332.47 768.49h3.28v16.18h-3.28zM335.05 765.91h3.28v11.02h-3.28zM337.63 768.49h3.28v3.28h-3.28zM340.21 747.85h3.28v21.34h-3.28zM342.79 750.43h3.28v16.18h-3.28zM345.37 760.75h3.28v8.44h-3.28zM347.95 760.75h3.28v5.86h-3.28zM350.53 760.75h3.28v5.86h-3.28zM353.11 765.91h3.28v21.34h-3.28zM355.69 758.17h3.28v29.08h-3.28zM358.27 760.75h3.28v16.18h-3.28zM360.85 755.59h3.28v5.86h-3.28zM363.43 750.43h3.28v5.86h-3.28zM366.01 755.59h3.28v5.86h-3.28zM368.59 753.01h3.28v8.44h-3.28zM371.17 734.95h3.28v18.76h-3.28zM373.75 742.69h3.28v13.6h-3.28zM376.33 742.69h3.28v13.6h-3.28zM378.91 729.79h3.28v23.92h-3.28zM381.49 732.37h3.28v11.02h-3.28zM384.07 732.37h3.28v13.6h-3.28zM386.65 734.95h3.28v3.28h-3.28zM389.23 727.21h3.28v8.44h-3.28zM391.81 719.47h3.28v8.44h-3.28zM394.39 722.05h3.28v5.86h-3.28zM396.97 714.31h3.28v8.44h-3.28zM399.55 703.99h3.28v16.18h-3.28zM402.13 703.99h3.28v11.02h-3.28zM404.71 680.77h3.28v23.92h-3.28zM407.29 675.61h3.28v5.86h-3.28zM409.87 660.13h3.28v16.18h-3.28zM412.45 647.23h3.28v21.34h-3.28zM415.03 621.43h3.28v26.5h-3.28zM417.61 593.05h3.28v29.08h-3.28zM420.19 574.99h3.28v31.66h-3.28zM422.77 567.25h3.28v8.44h-3.28zM425.35 549.19h3.28v21.34h-3.28zM427.93 523.39h3.28v26.5h-3.28zM430.51 510.49h3.28v13.6h-3.28zM433.09 484.69h3.28v29.08h-3.28zM435.67 440.83h3.28v44.56h-3.28zM438.25 438.25h3.28v18.76h-3.28zM440.83 445.99h3.28v13.6h-3.28zM443.41 451.15h3.28v8.44h-3.28zM445.99 456.31h3.28v8.44h-3.28zM448.57 451.15h3.28v13.6h-3.28zM451.15 458.89h3.28v8.44h-3.28zM453.73 456.31h3.28v21.34h-3.28zM456.31 469.21h3.28v11.02h-3.28zM458.89 476.95h3.28v18.76h-3.28zM461.47 492.43h3.28v23.92h-3.28zM464.05 500.17h3.28v18.76h-3.28zM466.63 492.43h3.28v16.18h-3.28zM469.21 492.43h3.28v16.18h-3.28zM471.79 479.53h3.28v13.6h-3.28zM474.37 466.63h3.28v13.6h-3.28zM476.95 474.37h3.28v5.86h-3.28zM479.53 474.37h3.28v16.18h-3.28zM482.11 476.95h3.28v13.6h-3.28zM484.69 474.37h3.28v8.44h-3.28zM487.27 482.11h3.28v8.44h-3.28zM489.85 487.27h3.28v5.86h-3.28zM492.43 487.27h3.28v8.44h-3.28zM495.01 489.85h3.28v8.44h-3.28zM497.59 489.85h3.28v13.6h-3.28zM500.17 497.59h3.28v5.86h-3.28zM502.75 497.59h3.28v18.76h-3.28zM505.33 505.33h3.28v13.6h-3.28zM507.91 495.01h3.28v26.5h-3.28zM510.49 513.07h3.28v16.18h-3.28zM513.07 515.65h3.28v16.18h-3.28zM515.65 525.97h3.28v3.28h-3.28zM518.23 518.23h3.28v18.76h-3.28zM520.81 533.71h3.28v5.86h-3.28zM523.39 538.87h3.28v31.66h-3.28zM525.97 541.45h3.28v29.08h-3.28zM528.55 551.77h3.28v11.02h-3.28zM531.13 551.77h3.28v21.34h-3.28zM533.71 562.09h3.28v13.6h-3.28zM536.29 564.67h3.28v5.86h-3.28zM538.87 562.09h3.28v3.28h-3.28zM541.45 564.67h3.28v5.86h-3.28zM544.03 567.25h3.28v3.28h-3.28zM546.61 564.67h3.28v5.86h-3.28zM549.19 562.09h3.28v3.28h-3.28zM551.77 556.93h3.28v5.86h-3.28zM554.35 551.77h3.28v8.44h-3.28zM556.93 546.61h3.28v13.6h-3.28zM559.51 538.87h3.28v11.02h-3.28zM562.09 541.45h3.28v8.44h-3.28zM564.67 544.03h3.28v5.86h-3.28zM567.25 533.71h3.28v23.92h-3.28zM569.83 538.87h3.28v23.92h-3.28zM572.41 556.93h3.28v34.24h-3.28zM574.99 577.57h3.28v23.92h-3.28zM577.57 590.47h3.28v23.92h-3.28zM580.15 587.89h3.28v26.5h-3.28zM582.73 595.63h3.28v8.44h-3.28zM585.31 593.05h3.28v13.6h-3.28zM587.89 603.37h3.28v3.28h-3.28zM590.47 605.95h3.28v5.86h-3.28zM593.05 598.21h3.28v18.76h-3.28zM595.63 608.53h3.28v5.86h-3.28zM598.21 613.69h3.28v5.86h-3.28zM600.79 611.11h3.28v11.02h-3.28zM603.37 611.11h3.28v11.02h-3.28zM605.95 611.11h3.28v5.86h-3.28zM608.53 613.69h3.28v3.28h-3.28zM611.11 613.69h3.28v13.6h-3.28zM613.69 613.69h3.28v11.02h-3.28zM616.27 613.69h3.28v16.18h-3.28zM618.85 616.27h3.28v11.02h-3.28zM621.43 618.85h3.28v5.86h-3.28zM624.01 624.01h3.28v5.86h-3.28zM626.59 624.01h3.28v5.86h-3.28zM629.17 618.85h3.28v11.02h-3.28zM631.75 618.85h3.28v8.44h-3.28zM634.33 613.69h3.28v8.44h-3.28zM636.91 611.11h3.28v3.28h-3.28zM639.49 603.37h3.28v8.44h-3.28zM642.07 593.05h3.28v16.18h-3.28zM644.65 595.63h3.28v11.02h-3.28zM647.23 593.05h3.28v21.34h-3.28zM649.81 608.53h3.28v3.28h-3.28zM652.39 605.95h3.28v11.02h-3.28zM654.97 605.95h3.28v11.02h-3.28zM657.55 595.63h3.28v11.02h-3.28zM660.13 595.63h3.28v11.02h-3.28zM662.71 593.05h3.28v3.28h-3.28zM665.29 582.73h3.28v11.02h-3.28zM667.87 585.31h3.28v11.02h-3.28zM670.45 574.99h3.28v16.18h-3.28zM673.03 577.57h3.28v13.6h-3.28zM675.61 574.99h3.28v3.28h-3.28zM678.19 562.09h3.28v16.18h-3.28zM680.77 567.25h3.28v3.28h-3.28zM683.35 554.35h3.28v13.6h-3.28zM685.93 528.55h3.28v26.5h-3.28zM688.51 528.55h3.28v18.76h-3.28zM691.09 544.03h3.28v11.02h-3.28zM693.67 551.77h3.28v21.34h-3.28zM696.25 551.77h3.28v29.08h-3.28zM698.83 572.41h3.28v13.6h-3.28zM701.41 585.31h3.28v11.02h-3.28zM703.99 595.63h3.28v16.18h-3.28zM706.57 611.11h3.28v13.6h-3.28zM709.15 621.43h3.28v5.86h-3.28zM711.73 621.43h3.28v31.66h-3.28zM714.31 642.07h3.28v11.02h-3.28zM716.89 626.59h3.28v16.18h-3.28zM719.47 626.59h3.28v21.34h-3.28zM722.05 616.27h3.28v29.08h-3.28zM724.63 618.85h3.28v11.02h-3.28zM727.21 616.27h3.28v13.6h-3.28zM729.79 621.43h3.28v5.86h-3.28zM732.37 618.85h3.28v8.44h-3.28zM734.95 618.85h3.28v8.44h-3.28zM737.53 611.11h3.28v23.92h-3.28zM740.11 613.69h3.28v18.76h-3.28zM742.69 613.69h3.28v8.44h-3.28zM745.27 603.37h3.28v18.76h-3.28zM747.85 603.37h3.28v16.18h-3.28zM750.43 605.95h3.28v8.44h-3.28zM753.01 585.31h3.28v21.34h-3.28zM755.59 585.31h3.28v18.76h-3.28zM758.17 590.47h3.28v13.6h-3.28zM760.75 590.47h3.28v3.28h-3.28zM763.33 585.31h3.28v16.18h-3.28zM765.91 580.15h3.28v18.76h-3.28zM768.49 580.15h3.28v5.86h-3.28zM771.07 582.73h3.28v3.28h-3.28zM773.65 582.73h3.28v5.86h-3.28zM776.23 572.41h3.28v13.6h-3.28zM778.81 572.41h3.28v5.86h-3.28zM781.39 572.41h3.28v5.86h-3.28zM783.97 562.09h3.28v11.02h-3.28zM786.55 564.67h3.28v5.86h-3.28zM789.13 554.35h3.28v13.6h-3.28zM791.71 556.93h3.28v5.86h-3.28zM794.29 554.35h3.28v5.86h-3.28zM796.87 538.87h3.28v16.18h-3.28zM799.45 533.71h3.28v13.6h-3.28zM802.03 531.13h3.28v3.28h-3.28zM804.61 513.07h3.28v18.76h-3.28zM807.19 513.07h3.28v11.02h-3.28zM809.77 510.49h3.28v26.5h-3.28zM812.35 536.29h3.28v8.44h-3.28zM814.93 531.13h3.28v11.02h-3.28zM817.51 536.29h3.28v16.18h-3.28zM820.09 541.45h3.28v13.6h-3.28zM822.67 554.35h3.28v13.6h-3.28zM825.25 554.35h3.28v5.86h-3.28zM827.83 551.77h3.28v11.02h-3.28zM830.41 546.61h3.28v13.6h-3.28zM832.99 541.45h3.28v5.86h-3.28zM835.57 536.29h3.28v5.86h-3.28zM838.15 525.97h3.28v11.02h-3.28zM840.73 525.97h3.28v8.44h-3.28zM843.31 520.81h3.28v13.6h-3.28zM845.89 507.91h3.28v13.6h-3.28zM848.47 507.91h3.28v5.86h-3.28zM851.05 497.59h3.28v11.02h-3.28zM853.63 484.69h3.28v16.18h-3.28zM856.21 476.95h3.28v13.6h-3.28zM858.79 469.21h3.28v11.02h-3.28zM861.37 471.79h3.28v21.34h-3.28zM863.95 476.95h3.28v23.92h-3.28zM866.53 484.69h3.28v29.08h-3.28zM869.11 513.07h3.28v16.18h-3.28zM871.69 520.81h3.28v21.34h-3.28zM874.27 536.29h3.28v5.86h-3.28zM876.85 538.87h3.28v13.6h-3.28zM879.43 544.03h3.28v11.02h-3.28zM882.01 554.35h3.28v16.18h-3.28zM884.59 569.83h3.28v5.86h-3.28zM887.17 569.83h3.28v5.86h-3.28zM889.75 572.41h3.28v34.24h-3.28zM892.33 577.57h3.28v21.34h-3.28zM894.91 580.15h3.28v16.18h-3.28zM897.49 577.57h3.28v11.02h-3.28zM900.07 569.83h3.28v16.18h-3.28zM902.65 564.67h3.28v18.76h-3.28zM905.23 567.25h3.28v13.6h-3.28zM907.81 572.41h3.28v5.86h-3.28zM910.39 567.25h3.28v16.18h-3.28zM912.97 567.25h3.28v11.02h-3.28zM915.55 574.99h3.28v11.02h-3.28zM918.13 577.57h3.28v16.18h-3.28zM920.71 582.73h3.28v11.02h-3.28zM923.29 590.47h3.28v8.44h-3.28zM925.87 590.47h3.28v8.44h-3.28zM928.45 590.47h3.28v16.18h-3.28zM931.03 598.21h3.28v13.6h-3.28zM933.61 608.53h3.28v8.44h-3.28zM936.19 616.27h3.28v3.28h-3.28zM938.77 616.27h3.28v8.44h-3.28zM941.35 618.85h3.28v8.44h-3.28zM943.93 626.59h3.28v11.02h-3.28zM946.51 636.91h3.28v8.44h-3.28zM949.09 634.33h3.28v5.86h-3.28zM951.67 629.17h3.28v5.86h-3.28zM954.25 621.43h3.28v13.6h-3.28zM956.83 613.69h3.28v23.92h-3.28zM959.41 631.75h3.28v23.92h-3.28zM961.99 642.07h3.28v11.02h-3.28zM964.57 644.65h3.28v5.86h-3.28zM967.15 636.91h3.28v8.44h-3.28zM969.73 631.75h3.28v8.44h-3.28zM972.31 639.49h3.28v3.28h-3.28zM974.89 631.75h3.28v23.92h-3.28zM977.47 647.23h3.28v21.34h-3.28zM980.05 652.39h3.28v11.02h-3.28zM982.63 644.65h3.28v13.6h-3.28zM985.21 644.65h3.28v8.44h-3.28zM987.79 639.49h3.28v5.86h-3.28zM990.37 636.91h3.28v5.86h-3.28zM992.95 636.91h3.28v13.6h-3.28zM995.53 642.07h3.28v5.86h-3.28zM998.11 636.91h3.28v8.44h-3.28zM1000.69 644.65h3.28v16.18h-3.28zM1003.27 649.81h3.28v21.34h-3.28zM1005.85 660.13h3.28v13.6h-3.28zM1008.43 662.71h3.28v8.44h-3.28zM1011.01 660.13h3.28v13.6h-3.28zM1013.59 665.29h3.28v11.02h-3.28zM1016.17 667.87h3.28v11.02h-3.28zM1018.75 667.87h3.28v8.44h-3.28zM1021.33 670.45h3.28v8.44h-3.28zM1023.91 673.03h3.28v8.44h-3.28zM1026.49 667.87h3.28v21.34h-3.28zM1029.07 683.35h3.28v5.86h-3.28zM1031.65 675.61h3.28v8.44h-3.28zM1034.23 675.61h3.28v13.6h-3.28zM1036.81 683.35h3.28v3.28h-3.28zM1039.39 683.35h3.28v11.02h-3.28zM1041.97 680.77h3.28v18.76h-3.28zM1044.55 678.19h3.28v8.44h-3.28zM1047.13 680.77h3.28v16.18h-3.28zM1049.71 688.51h3.28v8.44h-3.28zM1052.29 685.93h3.28v18.76h-3.28zM1054.87 701.41h3.28v8.44h-3.28zM1057.45 703.99h3.28v11.02h-3.28zM1060.03 714.31h3.28v5.86h-3.28zM1062.61 719.47h3.28v8.44h-3.28zM1065.19 714.31h3.28v16.18h-3.28zM1067.77 722.05h3.28v5.86h-3.28zM1070.35 714.31h3.28v21.34h-3.28zM1072.93 729.79h3.28v13.6h-3.28zM1075.51 722.05h3.28v13.6h-3.28zM1078.09 719.47h3.28v26.5h-3.28zM1080.67 729.79h3.28v11.02h-3.28zM1083.25 724.63h3.28v11.02h-3.28zM1085.83 734.95h3.28v13.6h-3.28zM1088.41 734.95h3.28v11.02h-3.28zM1090.99 737.53h3.28v5.86h-3.28zM1093.57 737.53h3.28v3.28h-3.28zM1096.15 737.53h3.28v5.86h-3.28zM1098.73 729.79h3.28v13.6h-3.28zM1101.31 719.47h3.28v26.5h-3.28zM1103.89 703.99h3.28v31.66h-3.28zM1106.47 698.83h3.28v31.66h-3.28zM1109.05 727.21h3.28v8.44h-3.28zM1111.63 729.79h3.28v11.02h-3.28zM1114.21 734.95h3.28v8.44h-3.28zM1116.79 727.21h3.28v16.18h-3.28zM1119.37 734.95h3.28v8.44h-3.28zM1121.95 737.53h3.28v18.76h-3.28zM1124.53 732.37h3.28v18.76h-3.28zM1127.11 745.27h3.28v5.86h-3.28zM1129.69 740.11h3.28v16.18h-3.28zM1132.27 732.37h3.28v13.6h-3.28zM1134.85 734.95h3.28v18.76h-3.28zM1137.43 742.69h3.28v5.86h-3.28zM1140.01 742.69h3.28v8.44h-3.28zM1142.59 740.11h3.28v8.44h-3.28zM1145.17 742.69h3.28v8.44h-3.28zM1147.75 740.11h3.28v13.6h-3.28zM1150.33 750.43h3.28v13.6h-3.28zM1152.91 758.17h3.28v5.86h-3.28zM1155.49 755.59h3.28v11.02h-3.28zM1158.07 760.75h3.28v16.18h-3.28zM1160.65 768.49h3.28v5.86h-3.28zM1163.23 763.33h3.28v8.44h-3.28zM1165.81 765.91h3.28v13.6h-3.28zM1168.39 760.75h3.28v21.34h-3.28zM1170.97 771.07h3.28v5.86h-3.28zM1173.55 773.65h3.28v11.02h-3.28zM1176.13 771.07h3.28v11.02h-3.28zM1178.71 773.65h3.28v5.86h-3.28zM1181.29 778.81h3.28v5.86h-3.28zM1183.87 771.07h3.28v16.18h-3.28zM1186.45 778.81h3.28v16.18h-3.28zM1189.03 781.39h3.28v5.86h-3.28zM1191.61 771.07h3.28v18.76h-3.28zM1194.19 765.91h3.28v5.86h-3.28zM1196.77 758.17h3.28v8.44h-3.28zM1199.35 753.01h3.28v8.44h-3.28zM1201.93 755.59h3.28v8.44h-3.28zM1204.51 758.17h3.28v13.6h-3.28zM1207.09 750.43h3.28v13.6h-3.28zM1209.67 753.01h3.28v8.44h-3.28zM1212.25 755.59h3.28v5.86h-3.28zM1214.83 750.43h3.28v11.02h-3.28zM1217.41 755.59h3.28v3.28h-3.28zM1219.99 753.01h3.28v16.18h-3.28zM1222.57 755.59h3.28v21.34h-3.28zM1225.15 763.33h3.28v11.02h-3.28zM1227.73 773.65h3.28v21.34h-3.28zM1230.31 765.91h3.28v16.18h-3.28zM1232.89 768.49h3.28v8.44h-3.28zM1235.47 773.65h3.28v5.86h-3.28zM1238.05 765.91h3.28v8.44h-3.28zM1240.63 760.75h3.28v5.86h-3.28zM1243.21 753.01h3.28v8.44h-3.28zM1245.79 747.85h3.28v8.44h-3.28zM1248.37 742.69h3.28v8.44h-3.28zM1250.95 729.79h3.28v13.6h-3.28zM1253.53 722.05h3.28v18.76h-3.28zM1256.11 711.73h3.28v13.6h-3.28zM1258.69 709.15h3.28v18.76h-3.28zM1261.27 714.31h3.28v23.92h-3.28zM1263.85 737.53h3.28v13.6h-3.28zM1266.43 747.85h3.28v11.02h-3.28zM1269.01 745.27h3.28v13.6h-3.28zM1271.59 753.01h3.28v5.86h-3.28zM1274.17 745.27h3.28v16.18h-3.28zM1276.75 740.11h3.28v11.02h-3.28zM1279.33 750.43h3.28v11.02h-3.28zM1281.91 750.43h3.28v8.44h-3.28zM1284.49 747.85h3.28v8.44h-3.28zM1287.07 750.43h3.28v5.86h-3.28zM1289.65 750.43h3.28v5.86h-3.28zM1292.23 747.85h3.28v5.86h-3.28zM1294.81 747.85h3.28v5.86h-3.28zM1297.39 750.43h3.28v5.86h-3.28zM1299.97 753.01h3.28v8.44h-3.28zM1302.55 753.01h3.28v11.02h-3.28zM1305.13 753.01h3.28v3.28h-3.28zM1307.71 753.01h3.28v8.44h-3.28zM1310.29 747.85h3.28v8.44h-3.28zM1312.87 747.85h3.28v16.18h-3.28zM1315.45 755.59h3.28v11.02h-3.28zM1318.03 758.17h3.28v5.86h-3.28zM1320.61 755.59h3.28v23.92h-3.28zM1323.19 760.75h3.28v16.18h-3.28zM1325.77 760.75h3.28v18.76h-3.28zM1328.35 750.43h3.28v16.18h-3.28zM1330.93 760.75h3.28v3.28h-3.28zM1333.51 763.33h3.28v8.44h-3.28zM1336.09 758.17h3.28v5.86h-3.28zM1338.67 758.17h3.28v8.44h-3.28zM1341.25 753.01h3.28v29.08h-3.28zM1343.83 755.59h3.28v11.02h-3.28zM1346.41 758.17h3.28v5.86h-3.28zM1348.99 755.59h3.28v11.02h-3.28zM1351.57 753.01h3.28v8.44h-3.28zM1354.15 750.43h3.28v8.44h-3.28zM1356.73 745.27h3.28v13.6h-3.28zM1359.31 758.17h3.28v16.18h-3.28zM1361.89 760.75h3.28v11.02h-3.28zM1364.47 763.33h3.28v16.18h-3.28zM1367.05 768.49h3.28v8.44h-3.28zM1369.63 776.23h3.28v11.02h-3.28zM1372.21 776.23h3.28v11.02h-3.28zM1374.79 771.07h3.28v16.18h-3.28zM1377.37 773.65h3.28v13.6h-3.28zM1379.95 776.23h3.28v5.86h-3.28zM1382.53 776.23h3.28v8.44h-3.28zM1385.11 771.07h3.28v13.6h-3.28zM1387.69 765.91h3.28v16.18h-3.28zM1390.27 765.91h3.28v16.18h-3.28zM1392.85 768.49h3.28v5.86h-3.28zM1395.43 765.91h3.28v5.86h-3.28zM1398.01 763.33h3.28v8.44h-3.28zM1400.59 760.75h3.28v3.28h-3.28zM1403.17 758.17h3.28v8.44h-3.28zM1405.75 753.01h3.28v11.02h-3.28zM1408.33 750.43h3.28v5.86h-3.28zM1410.91 755.59h3.28v8.44h-3.28zM1413.49 755.59h3.28v8.44h-3.28zM1416.07 763.33h3.28v13.6h-3.28zM1418.65 773.65h3.28v8.44h-3.28zM1421.23 768.49h3.28v8.44h-3.28zM1423.81 771.07h3.28v3.28h-3.28zM1426.39 763.33h3.28v8.44h-3.28zM1428.97 760.75h3.28v11.02h-3.28zM1431.55 763.33h3.28v8.44h-3.28zM1434.13 758.17h3.28v16.18h-3.28zM1436.71 763.33h3.28v3.28h-3.28zM1439.29 765.91h3.28v5.86h-3.28zM1441.87 771.07h3.28v21.34h-3.28zM1444.45 765.91h3.28v5.86h-3.28zM1447.03 771.07h3.28v8.44h-3.28zM1449.61 771.07h3.28v5.86h-3.28zM1452.19 771.07h3.28v11.02h-3.28zM1454.77 768.49h3.28v13.6h-3.28zM1457.35 763.33h3.28v18.76h-3.28zM1459.93 758.17h3.28v23.92h-3.28zM1462.51 755.59h3.28v8.44h-3.28zM1465.09 753.01h3.28v5.86h-3.28zM1467.67 753.01h3.28v8.44h-3.28zM1470.25 750.43h3.28v11.02h-3.28zM1472.83 745.27h3.28v11.02h-3.28zM1475.41 747.85h3.28v8.44h-3.28zM1477.99 745.27h3.28v23.92h-3.28zM1480.57 742.69h3.28v8.44h-3.28zM1483.15 740.11h3.28v16.18h-3.28zM1485.73 745.27h3.28v3.28h-3.28zM1488.31 742.69h3.28v13.6h-3.28zM1490.89 732.37h3.28v21.34h-3.28zM1493.47 724.63h3.28v16.18h-3.28zM1496.05 732.37h3.28v5.86h-3.28zM1498.63 727.21h3.28v5.86h-3.28zM1501.21 724.63h3.28v13.6h-3.28zM1503.79 716.89h3.28v8.44h-3.28zM1506.37 711.73h3.28v8.44h-3.28zM1508.95 709.15h3.28v18.76h-3.28zM1511.53 722.05h3.28v16.18h-3.28zM1514.11 727.21h3.28v5.86h-3.28zM1516.69 732.37h3.28v5.86h-3.28zM1519.27 734.95h3.28v3.28h-3.28zM1521.85 732.37h3.28v13.6h-3.28zM1524.43 727.21h3.28v16.18h-3.28zM1527.01 734.95h3.28v13.6h-3.28zM1529.59 734.95h3.28v21.34h-3.28zM1532.17 750.43h3.28v13.6h-3.28zM1534.75 750.43h3.28v13.6h-3.28zM1537.33 747.85h3.28v16.18h-3.28zM1539.91 753.01h3.28v11.02h-3.28zM1542.49 760.75h3.28v11.02h-3.28zM1545.07 760.75h3.28v11.02h-3.28zM1547.65 760.75h3.28v11.02h-3.28zM1550.23 765.91h3.28v8.44h-3.28zM1552.81 768.49h3.28v8.44h-3.28zM1555.39 765.91h3.28v5.86h-3.28zM1557.97 760.75h3.28v21.34h-3.28zM1560.55 755.59h3.28v5.86h-3.28zM1563.13 753.01h3.28v18.76h-3.28zM1565.71 765.91h3.28v3.28h-3.28zM1568.29 758.17h3.28v11.02h-3.28zM1570.87 753.01h3.28v8.44h-3.28zM1573.45 750.43h3.28v3.28h-3.28zM1576.03 734.95h3.28v16.18h-3.28zM1578.61 734.95h3.28v16.18h-3.28zM1581.19 724.63h3.28v16.18h-3.28zM1583.77 719.47h3.28v11.02h-3.28zM1586.35 714.31h3.28v11.02h-3.28zM1588.93 711.73h3.28v18.76h-3.28zM1591.51 716.89h3.28v5.86h-3.28zM1594.09 716.89h3.28v8.44h-3.28zM1596.67 722.05h3.28v18.76h-3.28zM1599.25 719.47h3.28v18.76h-3.28zM1601.83 734.95h3.28v8.44h-3.28zM1604.41 742.69h3.28v11.02h-3.28zM1606.99 745.27h3.28v11.02h-3.28zM1609.57 745.27h3.28v11.02h-3.28zM1612.15 755.59h3.28v8.44h-3.28zM1614.73 760.75h3.28v11.02h-3.28zM1617.31 765.91h3.28v13.6h-3.28zM1619.89 768.49h3.28v3.28h-3.28zM1622.47 758.17h3.28v18.76h-3.28zM1625.05 755.59h3.28v21.34h-3.28zM1627.63 771.07h3.28v11.02h-3.28zM1630.21 768.49h3.28v5.86h-3.28zM1632.79 763.33h3.28v11.02h-3.28zM1635.37 765.91h3.28v5.86h-3.28zM1637.95 760.75h3.28v11.02h-3.28zM1640.53 755.59h3.28v18.76h-3.28zM1643.11 745.27h3.28v13.6h-3.28zM1645.69 742.69h3.28v11.02h-3.28zM1648.27 740.11h3.28v16.18h-3.28zM1650.85 737.53h3.28v5.86h-3.28zM1653.43 737.53h3.28v5.86h-3.28zM1656.01 734.95h3.28v8.44h-3.28zM1658.59 734.95h3.28v5.86h-3.28zM1661.17 732.37h3.28v8.44h-3.28zM1663.75 734.95h3.28v13.6h-3.28zM1666.33 732.37h3.28v8.44h-3.28zM1668.91 729.79h3.28v3.28h-3.28zM1671.49 732.37h3.28v8.44h-3.28zM1674.07 740.11h3.28v3.28h-3.28zM1676.65 742.69h3.28v8.44h-3.28zM1679.23 750.43h3.28v5.86h-3.28zM1681.81 747.85h3.28v8.44h-3.28zM1684.39 745.27h3.28v11.02h-3.28zM1686.97 747.85h3.28v11.02h-3.28zM1689.55 745.27h3.28v21.34h-3.28zM1692.13 753.01h3.28v8.44h-3.28zM1694.71 758.17h3.28v3.28h-3.28zM1697.29 760.75h3.28v3.28h-3.28zM1699.87 760.75h3.28v3.28h-3.28zM1702.45 760.75h3.28v26.5h-3.28zM1705.03 758.17h3.28v16.18h-3.28zM1707.61 760.75h3.28v3.28h-3.28zM1710.19 750.43h3.28v13.6h-3.28zM1712.77 747.85h3.28v13.6h-3.28zM1715.35 745.27h3.28v8.44h-3.28zM1717.93 737.53h3.28v18.76h-3.28zM1720.51 737.53h3.28v13.6h-3.28zM1723.09 742.69h3.28v18.76h-3.28zM1725.67 745.27h3.28v13.6h-3.28zM1728.25 750.43h3.28v5.86h-3.28zM1730.83 745.27h3.28v11.02h-3.28zM1733.41 745.27h3.28v13.6h-3.28zM1735.99 747.85h3.28v8.44h-3.28zM1738.57 747.85h3.28v18.76h-3.28zM1741.15 742.69h3.28v8.44h-3.28zM1743.73 740.11h3.28v8.44h-3.28zM1746.31 740.11h3.28v26.5h-3.28zM1748.89 742.69h3.28v11.02h-3.28zM1751.47 742.69h3.28v13.6h-3.28zM1754.05 747.85h3.28v3.28h-3.28zM1756.63 747.85h3.28v13.6h-3.28zM1759.21 753.01h3.28v13.6h-3.28zM1761.79 755.59h3.28v13.6h-3.28zM1764.37 758.17h3.28v8.44h-3.28zM1766.95 753.01h3.28v13.6h-3.28zM1769.53 765.91h3.28v13.6h-3.28zM1772.11 771.07h3.28v23.92h-3.28zM1774.69 771.07h3.28v16.18h-3.28zM1777.27 781.39h3.28v5.86h-3.28zM1779.85 776.23h3.28v5.86h-3.28zM1782.43 776.23h3.28v11.02h-3.28zM1785.01 763.33h3.28v16.18h-3.28zM1787.59 763.33h3.28v16.18h-3.28zM1790.17 773.65h3.28v11.02h-3.28zM1792.75 773.65h3.28v3.28h-3.28zM1795.33 773.65h3.28v8.44h-3.28zM1797.91 771.07h3.28v8.44h-3.28zM1800.49 760.75h3.28v18.76h-3.28zM1803.07 753.01h3.28v31.66h-3.28zM1805.65 750.43h3.28v11.02h-3.28zM1808.23 740.11h3.28v11.02h-3.28zM1810.81 727.21h3.28v13.6h-3.28zM1813.39 724.63h3.28v13.6h-3.28zM1815.97 724.63h3.28v8.44h-3.28zM1818.55 727.21h3.28v3.28h-3.28zM1821.13 727.21h3.28v5.86h-3.28zM1823.71 727.21h3.28v5.86h-3.28zM1826.29 727.21h3.28v11.02h-3.28zM1828.87 727.21h3.28v13.6h-3.28zM1831.45 734.95h3.28v3.28h-3.28zM1834.03 737.53h3.28v8.44h-3.28zM1836.61 737.53h3.28v18.76h-3.28zM1839.19 750.43h3.28v5.86h-3.28zM1841.77 740.11h3.28v11.02h-3.28zM1844.35 737.53h3.28v11.02h-3.28zM1846.93 734.95h3.28v3.28h-3.28zM1849.51 724.63h3.28v13.6h-3.28zM1852.09 719.47h3.28v8.44h-3.28zM1854.67 716.89h3.28v3.28h-3.28zM1857.25 719.47h3.28v11.02h-3.28zM1859.83 729.79h3.28v11.02h-3.28zM1862.41 734.95h3.28v5.86h-3.28zM1864.99 740.11h3.28v13.6h-3.28zM1867.57 750.43h3.28v8.44h-3.28zM1870.15 747.85h3.28v3.28h-3.28zM1872.73 742.69h3.28v11.02h-3.28zM1875.31 742.69h3.28v5.86h-3.28zM1877.89 745.27h3.28v5.86h-3.28zM1880.47 737.53h3.28v11.02h-3.28zM1883.05 737.53h3.28v5.86h-3.28zM1885.63 737.53h3.28v5.86h-3.28zM1888.21 729.79h3.28v11.02h-3.28zM1890.79 729.79h3.28v8.44h-3.28zM1893.37 724.63h3.28v8.44h-3.28zM1895.95 716.89h3.28v13.6h-3.28zM1898.53 722.05h3.28v5.86h-3.28zM1901.11 719.47h3.28v3.28h-3.28zM1903.69 722.05h3.28v5.86h-3.28zM1906.27 722.05h3.28v11.02h-3.28zM1908.85 722.05h3.28v11.02h-3.28zM1911.43 729.79h3.28v11.02h-3.28zM1914.01 732.37h3.28v8.44h-3.28zM1916.59 737.53h3.28v5.86h-3.28zM1919.17 737.53h3.28v8.44h-3.28zM1921.75 737.53h3.28v8.44h-3.28zM1924.33 740.11h3.28v3.28h-3.28zM1926.91 737.53h3.28v8.44h-3.28zM1929.49 734.95h3.28v8.44h-3.28zM1932.07 729.79h3.28v13.6h-3.28zM1934.65 727.21h3.28v8.44h-3.28zM1937.23 724.63h3.28v3.28h-3.28zM1939.81 719.47h3.28v11.02h-3.28zM1942.39 716.89h3.28v5.86h-3.28zM1944.97 719.47h3.28v5.86h-3.28zM1947.55 714.31h3.28v5.86h-3.28zM1950.13 706.57h3.28v8.44h-3.28zM1952.71 706.57h3.28v8.44h-3.28zM1955.29 703.99h3.28v5.86h-3.28zM1957.87 698.83h3.28v8.44h-3.28zM1960.45 693.67h3.28v5.86h-3.28zM1963.03 698.83h3.28v21.34h-3.28zM1965.61 716.89h3.28v11.02h-3.28zM1968.19 727.21h3.28v8.44h-3.28zM1970.77 734.95h3.28v8.44h-3.28zM1973.35 742.69h3.28v8.44h-3.28zM1975.93 747.85h3.28v8.44h-3.28zM1978.51 753.01h3.28v3.28h-3.28zM1981.09 753.01h3.28v8.44h-3.28zM1983.67 755.59h3.28v16.18h-3.28zM1986.25 755.59h3.28v16.18h-3.28zM1988.83 768.49h3.28v5.86h-3.28zM1991.41 768.49h3.28v3.28h-3.28zM1993.99 765.91h3.28v11.02h-3.28zM1996.57 765.91h3.28v8.44h-3.28zM1999.15 763.33h3.28v8.44h-3.28zM2001.73 760.75h3.28v5.86h-3.28zM2004.31 760.75h3.28v3.28h-3.28zM2006.89 755.59h3.28v5.86h-3.28zM2009.47 745.27h3.28v11.02h-3.28zM2012.05 742.69h3.28v13.6h-3.28zM2014.63 742.69h3.28v5.86h-3.28zM2017.21 742.69h3.28v5.86h-3.28zM2019.79 745.27h3.28v3.28h-3.28zM2022.37 745.27h3.28v5.86h-3.28zM2024.95 750.43h3.28v8.44h-3.28zM2027.53 750.43h3.28v8.44h-3.28zM2030.11 750.43h3.28v16.18h-3.28zM2032.69 755.59h3.28v11.02h-3.28zM2035.27 750.43h3.28v13.6h-3.28zM2037.85 740.11h3.28v13.6h-3.28zM2040.43 742.69h3.28v11.02h-3.28zM2043.01 747.85h3.28v3.28h-3.28zM2045.59 745.27h3.28v5.86h-3.28zM2048.17 742.69h3.28v5.86h-3.28zM2050.75 742.69h3.28v8.44h-3.28zM2053.33 737.53h3.28v8.44h-3.28zM2055.91 737.53h3.28v13.6h-3.28zM2058.49 740.11h3.28v8.44h-3.28zM2061.07 740.11h3.28v5.86h-3.28zM2063.65 745.27h3.28v16.18h-3.28zM2066.23 740.11h3.28v5.86h-3.28zM2068.81 740.11h3.28v8.44h-3.28zM2071.39 742.69h3.28v5.86h-3.28zM2073.97 742.69h3.28v3.28h-3.28zM2076.55 745.27h3.28v8.44h-3.28zM2079.13 750.43h3.28v3.28h-3.28zM2081.71 753.01h3.28v5.86h-3.28zM2084.29 755.59h3.28v5.86h-3.28zM2086.87 755.59h3.28v11.02h-3.28zM2089.45 765.91h3.28v11.02h-3.28zM2092.03 771.07h3.28v8.44h-3.28zM2094.61 776.23h3.28v3.28h-3.28zM2097.19 776.23h3.28v5.86h-3.28zM2099.77 768.49h3.28v18.76h-3.28zM2102.35 768.49h3.28v3.28h-3.28zM2104.93 765.91h3.28v5.86h-3.28zM2107.51 758.17h3.28v8.44h-3.28zM2110.09 755.59h3.28v5.86h-3.28zM2112.67 747.85h3.28v11.02h-3.28zM2115.25 747.85h3.28v13.6h-3.28zM2117.83 745.27h3.28v8.44h-3.28zM2120.41 737.53h3.28v8.44h-3.28zM2122.99 724.63h3.28v13.6h-3.28zM2125.57 714.31h3.28v21.34h-3.28zM2128.15 711.73h3.28v3.28h-3.28zM2130.73 709.15h3.28v3.28h-3.28zM2133.31 701.41h3.28v11.02h-3.28zM2135.89 696.25h3.28v5.86h-3.28zM2138.47 691.09h3.28v8.44h-3.28zM2141.05 680.77h3.28v11.02h-3.28zM2143.63 673.03h3.28v11.02h-3.28zM2146.21 665.29h3.28v8.44h-3.28zM2148.79 657.55h3.28v8.44h-3.28zM2151.37 639.49h3.28v18.76h-3.28zM2153.95 634.33h3.28v5.86h-3.28zM2156.53 616.27h3.28v18.76h-3.28zM2159.11 613.69h3.28v13.6h-3.28zM2161.69 598.21h3.28v23.92h-3.28zM2164.27 577.57h3.28v23.92h-3.28zM2166.85 562.09h3.28v16.18h-3.28zM2169.43 549.19h3.28v13.6h-3.28zM2172.01 541.45h3.28v8.44h-3.28zM2174.59 510.49h3.28v31.66h-3.28zM2177.17 474.37h3.28v36.82h-3.28zM2179.75 438.25h3.28v36.82h-3.28zM2182.33 412.45h3.28v26.5h-3.28zM2184.91 386.65h3.28v26.5h-3.28zM2187.49 340.21h3.28v47.14h-3.28zM2190.07 296.35h3.28v44.56h-3.28zM2192.65 273.13h3.28v23.92h-3.28zM2195.23 195.73h3.28v78.1h-3.28zM2197.81 164.77h3.28v31.66h-3.28zM2200.39 110.59h3.28v54.88h-3.28zM2202.97 30.61h3.28v80.68h-3.28zM2205.55 22.87h3.28v8.44h-3.28z" fill="#0000ff"/>
</g>
<linearGradient id="tg" x1="0" y1="0" x2="0" y2="1"><stop offset="0" stop-color="#c8c8c8"/><stop offset="0.45" stop-color="#8a8a8a"/><stop offset="1" stop-color="#6c6c6c"/></linearGradient><rect x="208.6" y="19.2" width="2118" height="5" fill="url(#tg)"/>
<rect x="214.8" y="22" width="4.3" height="1402" fill="#777777"/>
<rect x="214.8" y="1424.6" width="2112" height="2.8" fill="#1c1c1c"/>
<rect x="2326.4" y="14.5" width="2.7" height="1404" fill="#141414"/>
<g fill="#000"><rect x="208" y="39.9" width="7.2" height="3"/><rect x="208" y="123.1" width="7.2" height="3"/><rect x="208" y="206.2" width="7.2" height="3"/><rect x="208" y="289.4" width="7.2" height="3"/><rect x="208" y="372.6" width="7.2" height="3"/><rect x="208" y="455.8" width="7.2" height="3"/><rect x="208" y="538.9" width="7.2" height="3"/><rect x="208" y="622.1" width="7.2" height="3"/><rect x="208" y="705.3" width="7.2" height="3"/><rect x="208" y="788.4" width="7.2" height="3"/><rect x="208" y="871.6" width="7.2" height="3"/><rect x="208" y="954.8" width="7.2" height="3"/><rect x="208" y="1037.9" width="7.2" height="3"/><rect x="208" y="1121.1" width="7.2" height="3"/><rect x="208" y="1204.3" width="7.2" height="3"/><rect x="208" y="1287.5" width="7.2" height="3"/><rect x="208" y="1370.6" width="7.2" height="3"/></g>
<g fill="#1a1a1a"><rect x="293" y="1430" width="2.8" height="15"/><rect x="615.1" y="1430" width="2.8" height="26"/><rect x="937.2" y="1430" width="2.8" height="15"/><rect x="1259.4" y="1430" width="2.8" height="26"/><rect x="1581.5" y="1430" width="2.8" height="15"/><rect x="1903.7" y="1430" width="2.8" height="26"/><rect x="2225.8" y="1430" width="2.8" height="15"/></g>
<g font-family="Liberation Serif, serif" fill="#000">
<g font-size="54"><text letter-spacing="-2.06" transform="matrix(0 -0.8635 0.9508 0 450.8 430.6)">1631</text><text letter-spacing="-1.00" transform="matrix(0 -0.9335 0.9724 0 496.1 453.5)">1606</text><text letter-spacing="-1.13" transform="matrix(0 -0.9241 0.9724 0 577.4 517.1)">1540</text><text letter-spacing="-1.30" transform="matrix(0 -0.9134 0.9508 0 694 519.9)">1443</text><text letter-spacing="-1.82" transform="matrix(0 -0.8796 0.9481 0 809.9 481.6)">1353</text><text letter-spacing="-2.84" transform="matrix(0 -0.8112 0.9455 0 874.4 462.5)">1311</text><text letter-spacing="-1.09" transform="matrix(0 -0.9272 0.9912 0 1013.4 628.1)">1206</text><text letter-spacing="-1.60" transform="matrix(0 -0.8927 0.9481 0 1265.3 694.4)">1001</text><text letter-spacing="-0.51" transform="matrix(0 -0.9698 0.9751 0 1518.5 703)">806</text><text letter-spacing="-0.52" transform="matrix(0 -0.9690 0.9481 0 1605 701.2)">744</text><text letter-spacing="-0.39" transform="matrix(0 -0.9763 0.9751 0 1677.6 696.8)">682</text><text letter-spacing="-0.92" transform="matrix(0 -0.9461 0.9751 0 1972.4 674.8)">458</text><text letter-spacing="-1.05" transform="matrix(0 -0.9300 0.9859 0 452.1 883.9)">1627</text><text letter-spacing="-0.97" transform="matrix(0 -0.9344 0.9751 0 495.7 840.3)">1602</text><text letter-spacing="-1.36" transform="matrix(0 -0.9103 0.9730 0 654.3 826.3)">1474</text><text letter-spacing="-1.16" transform="matrix(0 -0.9230 0.9751 0 716.6 877.4)">1437</text><text letter-spacing="-0.97" transform="matrix(0 -0.9344 1.0020 0 805.7 805.1)">1362</text><text letter-spacing="-1.42" transform="matrix(0 -0.9036 0.9751 0 1032.2 944.9)">1190</text><text letter-spacing="-0.52" transform="matrix(0 -0.9689 0.9751 0 1285 1026.6)">989</text><text letter-spacing="-0.64" transform="matrix(0 -0.9625 0.9751 0 1354.8 920.6)">934</text><text letter-spacing="-0.63" transform="matrix(0 -0.9615 0.9724 0 1558.9 920.3)">768</text><text letter-spacing="-0.95" transform="matrix(0 -0.9429 0.9589 0 1597.4 966.2)">756</text><text letter-spacing="-1.32" transform="matrix(0 -0.9213 0.9589 0 1683 985.3)">681</text><text letter-spacing="-0.18" transform="matrix(0 -0.9889 0.9616 0 1736.5 916.5)">628</text><text letter-spacing="-0.75" transform="matrix(0 -0.9551 0.9619 0 1842.8 1001.7)">555</text><text letter-spacing="-0.54" transform="matrix(0 -0.9680 0.9589 0 1887.8 995.3)">527</text><text letter-spacing="-0.79" transform="matrix(0 -0.9534 0.9401 0 2014.2 870.1)">439</text><text letter-spacing="-1.26" transform="matrix(0 -0.9155 0.9589 0 409.3 1232.3)">1663</text><text letter-spacing="-0.93" transform="matrix(0 -0.9375 0.9158 0 456.2 1277.8)">1640</text><text letter-spacing="-1.01" transform="matrix(0 -0.9318 0.9374 0 490.2 1150.6)">1605</text><text letter-spacing="-1.93" transform="matrix(0 -0.8716 0.9401 0 674.1 1255.5)">1461</text><text letter-spacing="-1.59" transform="matrix(0 -0.8941 0.9562 0 800.7 1276.8)">1365</text><text letter-spacing="-2.64" transform="matrix(0 -0.8283 0.9751 0 868.9 1259.8)">1313</text><text letter-spacing="-1.69" transform="matrix(0 -0.8860 0.9751 0 1028.3 1255.8)">1190</text><text letter-spacing="-1.01" transform="matrix(0 -0.9318 0.9670 0 1167.3 1165.8)">1079</text><text letter-spacing="-0.66" transform="matrix(0 -0.9607 0.9562 0 1265.7 1228.8)">999</text><text letter-spacing="-0.76" transform="matrix(0 -0.9552 0.9589 0 1318.8 1276.8)">959</text><text letter-spacing="-2.10" transform="matrix(0 -0.8793 0.9589 0 1375.4 1259.2)">916</text><text letter-spacing="-0.75" transform="matrix(0 -0.9562 0.9643 0 1519.6 1236.4)">804</text><text letter-spacing="-1.87" transform="matrix(0 -0.8899 0.9643 0 1670.8 1260.2)">691</text><text letter-spacing="-2.92" transform="matrix(0 -0.8269 0.9643 0 1769.5 1266)">611</text><text letter-spacing="-0.58" transform="matrix(0 -0.9661 0.9643 0 1998.6 1303.3)">429</text></g>
<g font-size="53" text-anchor="middle">
<text x="618.5" y="1502">1 500</text><text x="1262" y="1502">1 000</text><text x="1905" y="1502">500</text>
</g>
<text font-size="94" transform="translate(83.9 1088.6) rotate(-90)">Raman intensity (a.u.)</text>
<text font-size="94" x="804.1" y="1673">wavenumber (cm</text>
<text font-size="78" x="1455.3" y="1638.3">-</text>
<text font-size="83" transform="translate(1479.7 1638.3) scale(0.686 1)">1</text>
<text font-size="94" x="1503.6" y="1673">)</text>
</g>
<rect x="1260.3" y="81.9" width="830.9" height="201.3" fill="#fff" stroke="#161616" stroke-width="3"/>
<rect x="1287.5" y="109.4" width="30.5" height="29.3" fill="#0000ff"/>
<rect x="1287.5" y="169" width="30.5" height="27.8" fill="#808000"/>
<rect x="1287.5" y="227" width="30.5" height="28.7" fill="#ff0000"/>
<g font-family="Liberation Serif, serif" fill="#000" font-size="52">
<text x="1346" y="138.5" textLength="243" lengthAdjust="spacingAndGlyphs">Glu_pH3_5</text>
<text x="1621" y="139.5" font-size="51" textLength="37" lengthAdjust="spacingAndGlyphs">_1</text>
<text x="1671" y="139.5" font-size="51" textLength="375" lengthAdjust="spacingAndGlyphs">microM_Sersitive</text>
<text x="1346" y="195.7" textLength="657.5" lengthAdjust="spacingAndGlyphs">Glu_pH7_100picoM_Sersitive</text>
<text x="1339" y="256" font-size="54" textLength="410" lengthAdjust="spacingAndGlyphs">Glu-Au theoretical</text>
</g>
</svg>
</body></html>
